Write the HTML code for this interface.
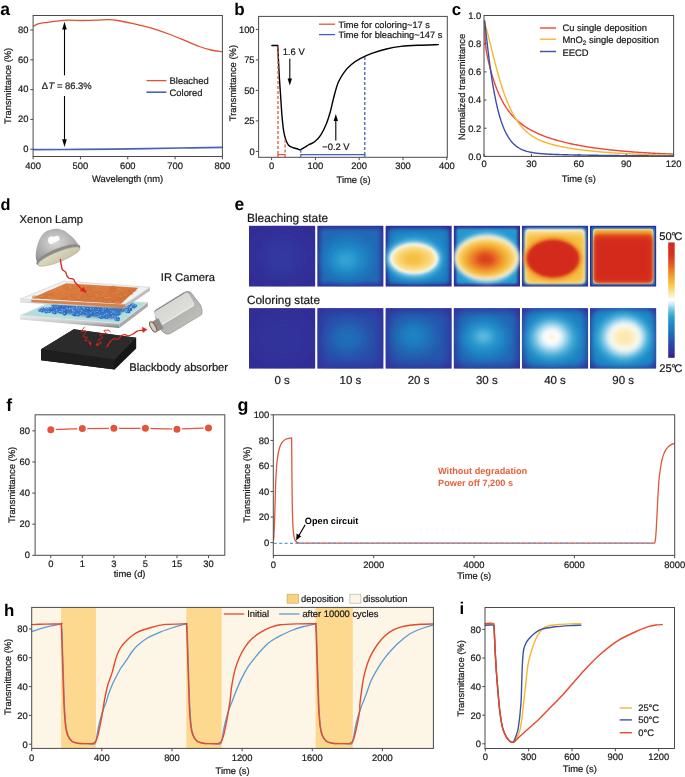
<!DOCTYPE html>
<html><head><meta charset="utf-8"><style>
html,body{margin:0;padding:0;background:#fff;}
body{width:685px;height:777px;overflow:hidden;}
svg{display:block;font-family:"Liberation Sans",sans-serif;will-change:transform;text-rendering:geometricPrecision;}
</style></head><body>
<svg width="685" height="777" viewBox="0 0 685 777">
<text x="0.2" y="14.9" font-size="17.5" text-anchor="start" font-weight="bold" fill="#000">a</text>
<path d="M33.5,26.1C34.38,25.7 36.47,24.33 38.8,23.7C41.13,23.07 44.1,22.78 47.5,22.3C50.9,21.82 55.78,21.15 59.2,20.8C62.62,20.45 64.1,20.25 68,20.2C71.9,20.15 77.73,20.5 82.6,20.5C87.47,20.5 92.83,20.35 97.2,20.2C101.57,20.05 105.4,19.55 108.8,19.6C112.2,19.65 113.7,19.87 117.6,20.5C121.5,21.13 127.33,22.33 132.2,23.4C137.07,24.47 142.92,25.92 146.8,26.9C150.68,27.88 151.62,28.03 155.5,29.3C159.38,30.57 165.23,32.65 170.1,34.5C174.97,36.35 179.83,38.4 184.7,40.4C189.57,42.4 194.92,44.9 199.3,46.5C203.68,48.1 207.25,49.15 211,50C214.75,50.85 220,51.33 221.8,51.6" fill="none" stroke="#E2512F" stroke-width="1.3" stroke-linejoin="round" stroke-linecap="round"/>
<path d="M33.5,149.6C41.25,149.57 63.92,149.53 80,149.4C96.08,149.27 113.33,149.03 130,148.8C146.67,148.57 164.67,148.23 180,148C195.33,147.77 215,147.5 222,147.4" fill="none" stroke="#4a62b4" stroke-width="1.7" stroke-linejoin="round" stroke-linecap="round"/>
<line x1="64.5" y1="27" x2="64.5" y2="75.3" stroke="#000" stroke-width="1.1"/>
<line x1="64.5" y1="96" x2="64.5" y2="141" stroke="#000" stroke-width="1.1"/>
<path d="M64.5,21.8 L62.2,29.5 L66.8,29.5 Z" fill="#000"/>
<path d="M64.5,147 L62.2,139.3 L66.8,139.3 Z" fill="#000"/>
<text x="41.7" y="88.5" font-size="9.4" text-anchor="start" font-weight="normal" fill="#1a1a1a" stroke="#1a1a1a" stroke-width="0.22">Δ<tspan font-style="italic" dx="0.6">T</tspan> = 86.3%</text>
<line x1="146.5" y1="80.6" x2="166.4" y2="80.6" stroke="#E2512F" stroke-width="1.3"/>
<text x="169.6" y="84.1" font-size="9.4" text-anchor="start" font-weight="normal" fill="#1a1a1a" stroke="#1a1a1a" stroke-width="0.22">Bleached</text>
<line x1="146.5" y1="92.2" x2="166.4" y2="92.2" stroke="#4a62b4" stroke-width="1.6"/>
<text x="169.6" y="95.7" font-size="9.4" text-anchor="start" font-weight="normal" fill="#1a1a1a" stroke="#1a1a1a" stroke-width="0.22">Colored</text>
<rect x="33.1" y="15.5" width="189.3" height="141" fill="none" stroke="#4a4a4a" stroke-width="1"/>
<line x1="30.3" y1="149.2" x2="33.1" y2="149.2" stroke="#4a4a4a" stroke-width="1"/>
<text x="28.5" y="151.9" font-size="9.4" text-anchor="end" font-weight="normal" fill="#1a1a1a" stroke="#1a1a1a" stroke-width="0.22">0</text>
<line x1="30.3" y1="119.4" x2="33.1" y2="119.4" stroke="#4a4a4a" stroke-width="1"/>
<text x="28.5" y="122.1" font-size="9.4" text-anchor="end" font-weight="normal" fill="#1a1a1a" stroke="#1a1a1a" stroke-width="0.22">20</text>
<line x1="30.3" y1="89.6" x2="33.1" y2="89.6" stroke="#4a4a4a" stroke-width="1"/>
<text x="28.5" y="92.3" font-size="9.4" text-anchor="end" font-weight="normal" fill="#1a1a1a" stroke="#1a1a1a" stroke-width="0.22">40</text>
<line x1="30.3" y1="59.8" x2="33.1" y2="59.8" stroke="#4a4a4a" stroke-width="1"/>
<text x="28.5" y="62.5" font-size="9.4" text-anchor="end" font-weight="normal" fill="#1a1a1a" stroke="#1a1a1a" stroke-width="0.22">60</text>
<line x1="30.3" y1="30" x2="33.1" y2="30" stroke="#4a4a4a" stroke-width="1"/>
<text x="28.5" y="32.7" font-size="9.4" text-anchor="end" font-weight="normal" fill="#1a1a1a" stroke="#1a1a1a" stroke-width="0.22">80</text>
<line x1="33.1" y1="156.5" x2="33.1" y2="159.3" stroke="#4a4a4a" stroke-width="1"/>
<text x="33.1" y="168.9" font-size="9.4" text-anchor="middle" font-weight="normal" fill="#1a1a1a" stroke="#1a1a1a" stroke-width="0.22">400</text>
<line x1="80.43" y1="156.5" x2="80.43" y2="159.3" stroke="#4a4a4a" stroke-width="1"/>
<text x="80.43" y="168.9" font-size="9.4" text-anchor="middle" font-weight="normal" fill="#1a1a1a" stroke="#1a1a1a" stroke-width="0.22">500</text>
<line x1="127.75" y1="156.5" x2="127.75" y2="159.3" stroke="#4a4a4a" stroke-width="1"/>
<text x="127.75" y="168.9" font-size="9.4" text-anchor="middle" font-weight="normal" fill="#1a1a1a" stroke="#1a1a1a" stroke-width="0.22">600</text>
<line x1="175.07" y1="156.5" x2="175.07" y2="159.3" stroke="#4a4a4a" stroke-width="1"/>
<text x="175.07" y="168.9" font-size="9.4" text-anchor="middle" font-weight="normal" fill="#1a1a1a" stroke="#1a1a1a" stroke-width="0.22">700</text>
<line x1="222.4" y1="156.5" x2="222.4" y2="159.3" stroke="#4a4a4a" stroke-width="1"/>
<text x="222.4" y="168.9" font-size="9.4" text-anchor="middle" font-weight="normal" fill="#1a1a1a" stroke="#1a1a1a" stroke-width="0.22">800</text>
<text x="127.6" y="182" font-size="9.4" text-anchor="middle" font-weight="normal" fill="#1a1a1a" stroke="#1a1a1a" stroke-width="0.22">Wavelength (nm)</text>
<text x="10.9" y="85.9" font-size="9.4" text-anchor="middle" font-weight="normal" fill="#1a1a1a" stroke="#1a1a1a" stroke-width="0.22" transform="rotate(-90 10.9 85.9)">Transmittance (%)</text>
<text x="234.2" y="14.5" font-size="17" text-anchor="start" font-weight="bold" fill="#000">b</text>
<path d="M271.9,45.5 L277.8,45.5C277.9,47.78 278.12,53.52 278.4,59.2C278.68,64.88 279.12,73.27 279.5,79.6C279.88,85.93 280.3,91.35 280.7,97.2C281.1,103.05 281.42,109.12 281.9,114.7C282.38,120.28 282.97,126.57 283.6,130.7C284.23,134.83 284.87,137.07 285.7,139.5C286.53,141.93 287.38,143.93 288.6,145.3C289.82,146.67 291.55,147.12 293,147.7C294.45,148.28 296.08,148.47 297.3,148.8C298.52,149.13 299.08,149.93 300.3,149.7C301.52,149.47 303.15,148.23 304.6,147.4C306.05,146.57 307.28,145.68 309,144.7C310.72,143.72 312.95,143.1 314.9,141.5C316.85,139.9 318.77,138.12 320.7,135.1C322.63,132.08 324.9,127.28 326.5,123.4C328.1,119.52 329.08,116.17 330.3,111.8C331.52,107.43 332.48,102.07 333.8,97.2C335.12,92.33 336.48,86.75 338.2,82.6C339.92,78.45 341.9,75.32 344.1,72.3C346.3,69.28 348.73,66.78 351.4,64.5C354.07,62.22 356.7,60.45 360.1,58.6C363.5,56.75 367.42,55 371.8,53.4C376.18,51.8 381.53,50.17 386.4,49C391.27,47.83 395.65,47.03 401,46.4C406.35,45.77 412.27,45.5 418.5,45.2C424.73,44.9 435.08,44.7 438.4,44.6" fill="none" stroke="#000" stroke-width="1.4" stroke-linejoin="round" stroke-linecap="round"/>
<line x1="278" y1="46" x2="278" y2="154.7" stroke="#E8553A" stroke-width="1.3" stroke-dasharray="3,2"/>
<line x1="285.1" y1="139.5" x2="285.1" y2="154.7" stroke="#E8553A" stroke-width="1.3" stroke-dasharray="3,2"/>
<path d="M278,157 V154.7 H285.1 V157" fill="none" stroke="#E8553A" stroke-width="1.2"/>
<line x1="364.8" y1="57" x2="364.8" y2="154.7" stroke="#4360B5" stroke-width="1.3" stroke-dasharray="3,2"/>
<line x1="300.8" y1="149.7" x2="300.8" y2="154.7" stroke="#4360B5" stroke-width="1.3" stroke-dasharray="3,2"/>
<path d="M300.8,157 V154.7 H364.8 V157" fill="none" stroke="#4360B5" stroke-width="1.2"/>
<line x1="289.8" y1="58.8" x2="289.8" y2="80" stroke="#000" stroke-width="1.1"/>
<path d="M289.8,85.5 L287.6,78.5 L292,78.5 Z" fill="#000"/>
<text x="282.8" y="54.7" font-size="9.4" text-anchor="start" font-weight="normal" fill="#1a1a1a" stroke="#1a1a1a" stroke-width="0.22">1.6 V</text>
<line x1="335.8" y1="120" x2="335.8" y2="140.4" stroke="#000" stroke-width="1.1"/>
<path d="M335.8,114 L333.6,121 L338,121 Z" fill="#000"/>
<text x="322.2" y="150.1" font-size="9.4" text-anchor="start" font-weight="normal" fill="#1a1a1a" stroke="#1a1a1a" stroke-width="0.22">−0.2 V</text>
<line x1="319" y1="24.2" x2="335.1" y2="24.2" stroke="#E8553A" stroke-width="1.3"/>
<text x="338.5" y="28" font-size="9.25" text-anchor="start" font-weight="normal" fill="#1a1a1a" stroke="#1a1a1a" stroke-width="0.22">Time for coloring~17 s</text>
<line x1="319" y1="34.6" x2="335.1" y2="34.6" stroke="#4360B5" stroke-width="1.3"/>
<text x="338.5" y="38.4" font-size="9.25" text-anchor="start" font-weight="normal" fill="#1a1a1a" stroke="#1a1a1a" stroke-width="0.22">Time for bleaching~147 s</text>
<rect x="258.6" y="16.4" width="188.7" height="140.9" fill="none" stroke="#4a4a4a" stroke-width="1"/>
<line x1="255.8" y1="151.4" x2="258.6" y2="151.4" stroke="#4a4a4a" stroke-width="1"/>
<text x="254.6" y="154.7" font-size="9.4" text-anchor="end" font-weight="normal" fill="#1a1a1a" stroke="#1a1a1a" stroke-width="0.22">0</text>
<line x1="255.8" y1="120.9" x2="258.6" y2="120.9" stroke="#4a4a4a" stroke-width="1"/>
<text x="254.6" y="124.2" font-size="9.4" text-anchor="end" font-weight="normal" fill="#1a1a1a" stroke="#1a1a1a" stroke-width="0.22">25</text>
<line x1="255.8" y1="90.4" x2="258.6" y2="90.4" stroke="#4a4a4a" stroke-width="1"/>
<text x="254.6" y="93.7" font-size="9.4" text-anchor="end" font-weight="normal" fill="#1a1a1a" stroke="#1a1a1a" stroke-width="0.22">50</text>
<line x1="255.8" y1="59.9" x2="258.6" y2="59.9" stroke="#4a4a4a" stroke-width="1"/>
<text x="254.6" y="63.2" font-size="9.4" text-anchor="end" font-weight="normal" fill="#1a1a1a" stroke="#1a1a1a" stroke-width="0.22">75</text>
<line x1="255.8" y1="29.4" x2="258.6" y2="29.4" stroke="#4a4a4a" stroke-width="1"/>
<text x="254.6" y="32.7" font-size="9.4" text-anchor="end" font-weight="normal" fill="#1a1a1a" stroke="#1a1a1a" stroke-width="0.22">100</text>
<line x1="271.6" y1="157.3" x2="271.6" y2="160.1" stroke="#4a4a4a" stroke-width="1"/>
<text x="271.6" y="168.9" font-size="9.4" text-anchor="middle" font-weight="normal" fill="#1a1a1a" stroke="#1a1a1a" stroke-width="0.22">0</text>
<line x1="315.4" y1="157.3" x2="315.4" y2="160.1" stroke="#4a4a4a" stroke-width="1"/>
<text x="315.4" y="168.9" font-size="9.4" text-anchor="middle" font-weight="normal" fill="#1a1a1a" stroke="#1a1a1a" stroke-width="0.22">100</text>
<line x1="359.2" y1="157.3" x2="359.2" y2="160.1" stroke="#4a4a4a" stroke-width="1"/>
<text x="359.2" y="168.9" font-size="9.4" text-anchor="middle" font-weight="normal" fill="#1a1a1a" stroke="#1a1a1a" stroke-width="0.22">200</text>
<line x1="403" y1="157.3" x2="403" y2="160.1" stroke="#4a4a4a" stroke-width="1"/>
<text x="403" y="168.9" font-size="9.4" text-anchor="middle" font-weight="normal" fill="#1a1a1a" stroke="#1a1a1a" stroke-width="0.22">300</text>
<line x1="446.8" y1="157.3" x2="446.8" y2="160.1" stroke="#4a4a4a" stroke-width="1"/>
<text x="446.8" y="168.9" font-size="9.4" text-anchor="middle" font-weight="normal" fill="#1a1a1a" stroke="#1a1a1a" stroke-width="0.22">400</text>
<text x="353.6" y="182.5" font-size="9.4" text-anchor="middle" font-weight="normal" fill="#1a1a1a" stroke="#1a1a1a" stroke-width="0.22">Time (s)</text>
<text x="235.8" y="83.1" font-size="9.4" text-anchor="middle" font-weight="normal" fill="#1a1a1a" stroke="#1a1a1a" stroke-width="0.22" transform="rotate(-90 235.8 83.1)">Transmittance (%)</text>
<text x="451.7" y="15" font-size="16.8" text-anchor="start" font-weight="bold" fill="#000">c</text>
<path d="M484.6,21.74 L484.85,31.15 L485.1,37.45 L485.35,41.83 L485.6,45.01 L485.85,47.45 L486.1,49.42 L486.35,51.09 L486.6,52.58 L486.85,53.94 L487.1,55.21 L487.35,56.42 L487.6,57.6 L487.85,58.74 L488.1,59.85 L488.35,60.94 L488.6,62 L488.85,63.05 L489.1,64.08 L489.35,65.1 L489.6,66.09 L489.85,67.07 L490.1,68.04 L490.35,68.99 L490.6,69.92 L490.85,70.84 L491.1,71.75 L491.35,72.64 L491.6,73.52 L491.85,74.39 L492.1,75.24 L492.35,76.08 L492.6,76.9 L492.85,77.71 L493.1,78.52 L493.35,79.3 L493.6,80.08 L493.85,80.84 L494.1,81.6 L494.35,82.34 L494.6,83.07 L494.85,83.79 L495.1,84.5 L495.35,85.2 L495.6,85.89 L495.85,86.56 L496.1,87.23 L496.35,87.89 L496.6,88.54 L496.85,89.18 L497.1,89.81 L497.35,90.43 L497.6,91.04 L497.85,91.64 L498.1,92.23 L498.35,92.82 L498.6,93.4 L498.85,93.96 L499.1,94.53 L499.35,95.08 L499.6,95.62 L499.85,96.16 L500,96.48 L501,98.53 L502,100.48 L503,102.32 L504,104.07 L505,105.72 L506,107.29 L507,108.78 L508,110.19 L509,111.54 L510,112.82 L511,114.04 L512,115.21 L513,116.32 L514,117.38 L515,118.4 L516,119.37 L517,120.3 L518,121.19 L519,122.05 L520,122.87 L521,123.66 L522,124.42 L523,125.15 L524,125.86 L525,126.53 L526,127.19 L527,127.82 L528,128.43 L529,129.02 L530,129.6 L531,130.15 L532,130.69 L533,131.21 L534,131.71 L535,132.2 L536,132.68 L537,133.14 L538,133.59 L539,134.03 L540,134.45 L541,134.87 L542,135.27 L543,135.67 L544,136.05 L545,136.43 L546,136.79 L547,137.15 L548,137.5 L549,137.84 L550,138.17 L551,138.5 L552,138.82 L553,139.13 L554,139.43 L555,139.73 L556,140.02 L557,140.31 L558,140.59 L559,140.86 L560,141.13 L561,141.4 L562,141.66 L563,141.91 L564,142.16 L565,142.4 L566,142.64 L567,142.88 L568,143.11 L569,143.33 L570,143.55 L571,143.77 L572,143.99 L573,144.2 L574,144.4 L575,144.6 L576,144.8 L577,145 L578,145.19 L579,145.38 L580,145.56 L581,145.74 L582,145.92 L583,146.1 L584,146.27 L585,146.44 L586,146.61 L587,146.77 L588,146.93 L589,147.09 L590,147.24 L591,147.4 L592,147.55 L593,147.69 L594,147.84 L595,147.98 L596,148.12 L597,148.26 L598,148.39 L599,148.53 L600,148.66 L601,148.79 L602,148.91 L603,149.04 L604,149.16 L605,149.28 L606,149.4 L607,149.51 L608,149.63 L609,149.74 L610,149.85 L611,149.96 L612,150.07 L613,150.17 L614,150.27 L615,150.37 L616,150.47 L617,150.57 L618,150.67 L619,150.76 L620,150.86 L621,150.95 L622,151.04 L623,151.13 L624,151.22 L625,151.3 L626,151.39 L627,151.47 L628,151.55 L629,151.63 L630,151.71 L631,151.79 L632,151.86 L633,151.94 L634,152.01 L635,152.08 L636,152.16 L637,152.23 L638,152.3 L639,152.36 L640,152.43 L641,152.5 L642,152.56 L643,152.62 L644,152.69 L645,152.75 L646,152.81 L647,152.87 L648,152.93 L649,152.98 L650,153.04 L651,153.1 L652,153.15 L653,153.2 L654,153.26 L655,153.31 L656,153.36 L657,153.41 L658,153.46 L659,153.51 L660,153.56 L661,153.6 L662,153.65 L663,153.69 L664,153.74 L665,153.78 L666,153.83 L667,153.87 L668,153.91 L669,153.95 L670,153.99 L671,154.03 L672,154.07 L673,154.11 L673.3,154.12" fill="none" stroke="#E8473A" stroke-width="1.4" stroke-linejoin="round" stroke-linecap="round"/>
<path d="M484.6,23.49 L484.85,24.09 L485.1,24.77 L485.35,25.49 L485.6,26.25 L485.85,27.05 L486.1,27.88 L486.35,28.73 L486.6,29.6 L486.85,30.49 L487.1,31.4 L487.35,32.33 L487.6,33.26 L487.85,34.21 L488.1,35.17 L488.35,36.14 L488.6,37.12 L488.85,38.11 L489.1,39.1 L489.35,40.09 L489.6,41.09 L489.85,42.1 L490.1,43.1 L490.35,44.11 L490.6,45.12 L490.85,46.14 L491.1,47.15 L491.35,48.16 L491.6,49.17 L491.85,50.18 L492.1,51.19 L492.35,52.2 L492.6,53.21 L492.85,54.21 L493.1,55.21 L493.35,56.21 L493.6,57.2 L493.85,58.19 L494.1,59.18 L494.35,60.16 L494.6,61.13 L494.85,62.11 L495.1,63.07 L495.35,64.03 L495.6,64.99 L495.85,65.94 L496.1,66.89 L496.35,67.82 L496.6,68.76 L496.85,69.68 L497.1,70.6 L497.35,71.52 L497.6,72.42 L497.85,73.32 L498.1,74.22 L498.35,75.1 L498.6,75.98 L498.85,76.85 L499.1,77.72 L499.35,78.57 L499.6,79.42 L499.85,80.27 L500,80.77 L501,84.04 L502,87.2 L503,90.23 L504,93.13 L505,95.92 L506,98.58 L507,101.12 L508,103.55 L509,105.86 L510,108.06 L511,110.15 L512,112.14 L513,114.03 L514,115.82 L515,117.52 L516,119.14 L517,120.66 L518,122.11 L519,123.48 L520,124.78 L521,126 L522,127.17 L523,128.27 L524,129.31 L525,130.29 L526,131.23 L527,132.11 L528,132.95 L529,133.74 L530,134.49 L531,135.21 L532,135.88 L533,136.53 L534,137.14 L535,137.72 L536,138.27 L537,138.8 L538,139.3 L539,139.78 L540,140.24 L541,140.67 L542,141.09 L543,141.49 L544,141.87 L545,142.24 L546,142.59 L547,142.93 L548,143.25 L549,143.57 L550,143.87 L551,144.16 L552,144.44 L553,144.71 L554,144.97 L555,145.22 L556,145.47 L557,145.7 L558,145.93 L559,146.15 L560,146.37 L561,146.58 L562,146.79 L563,146.98 L564,147.18 L565,147.37 L566,147.55 L567,147.73 L568,147.9 L569,148.07 L570,148.24 L571,148.4 L572,148.56 L573,148.71 L574,148.86 L575,149.01 L576,149.16 L577,149.3 L578,149.44 L579,149.57 L580,149.7 L581,149.83 L582,149.96 L583,150.08 L584,150.2 L585,150.32 L586,150.44 L587,150.55 L588,150.67 L589,150.78 L590,150.88 L591,150.99 L592,151.09 L593,151.19 L594,151.29 L595,151.39 L596,151.49 L597,151.58 L598,151.67 L599,151.76 L600,151.85 L601,151.94 L602,152.02 L603,152.1 L604,152.19 L605,152.27 L606,152.34 L607,152.42 L608,152.5 L609,152.57 L610,152.64 L611,152.72 L612,152.79 L613,152.85 L614,152.92 L615,152.99 L616,153.05 L617,153.12 L618,153.18 L619,153.24 L620,153.3 L621,153.36 L622,153.42 L623,153.47 L624,153.53 L625,153.58 L626,153.64 L627,153.69 L628,153.74 L629,153.79 L630,153.84 L631,153.89 L632,153.94 L633,153.98 L634,154.03 L635,154.07 L636,154.12 L637,154.16 L638,154.2 L639,154.24 L640,154.29 L641,154.33 L642,154.37 L643,154.4 L644,154.44 L645,154.48 L646,154.52 L647,154.55 L648,154.59 L649,154.62 L650,154.65 L651,154.69 L652,154.72 L653,154.75 L654,154.78 L655,154.81 L656,154.84 L657,154.87 L658,154.9 L659,154.93 L660,154.96 L661,154.99 L662,155.01 L663,155.04 L664,155.06 L665,155.09 L666,155.11 L667,155.14 L668,155.16 L669,155.19 L670,155.21 L671,155.23 L672,155.25 L673,155.28 L673.3,155.28" fill="none" stroke="#F6B62E" stroke-width="1.4" stroke-linejoin="round" stroke-linecap="round"/>
<path d="M484.6,20.62 L484.85,22.75 L485.1,24.94 L485.35,27.17 L485.6,29.41 L485.85,31.65 L486.1,33.89 L486.35,36.12 L486.6,38.33 L486.85,40.52 L487.1,42.69 L487.35,44.84 L487.6,46.97 L487.85,49.07 L488.1,51.14 L488.35,53.18 L488.6,55.2 L488.85,57.18 L489.1,59.14 L489.35,61.07 L489.6,62.96 L489.85,64.83 L490.1,66.66 L490.35,68.47 L490.6,70.24 L490.85,71.99 L491.1,73.7 L491.35,75.39 L491.6,77.04 L491.85,78.67 L492.1,80.26 L492.35,81.83 L492.6,83.37 L492.85,84.87 L493.1,86.36 L493.35,87.81 L493.6,89.23 L493.85,90.63 L494.1,92 L494.35,93.35 L494.6,94.67 L494.85,95.96 L495.1,97.23 L495.35,98.47 L495.6,99.69 L495.85,100.88 L496.1,102.05 L496.35,103.19 L496.6,104.32 L496.85,105.41 L497.1,106.49 L497.35,107.55 L497.6,108.58 L497.85,109.59 L498.1,110.58 L498.35,111.55 L498.6,112.5 L498.85,113.43 L499.1,114.34 L499.35,115.24 L499.6,116.11 L499.85,116.96 L500,117.47 L501,120.67 L502,123.6 L503,126.28 L504,128.74 L505,130.99 L506,133.05 L507,134.93 L508,136.65 L509,138.22 L510,139.65 L511,140.95 L512,142.15 L513,143.23 L514,144.22 L515,145.12 L516,145.95 L517,146.7 L518,147.38 L519,148 L520,148.57 L521,149.09 L522,149.56 L523,149.99 L524,150.38 L525,150.73 L526,151.06 L527,151.36 L528,151.63 L529,151.88 L530,152.1 L531,152.31 L532,152.5 L533,152.68 L534,152.84 L535,152.98 L536,153.12 L537,153.24 L538,153.36 L539,153.46 L540,153.56 L541,153.65 L542,153.73 L543,153.81 L544,153.88 L545,153.95 L546,154.01 L547,154.07 L548,154.13 L549,154.18 L550,154.23 L551,154.27 L552,154.32 L553,154.36 L554,154.4 L555,154.44 L556,154.47 L557,154.51 L558,154.54 L559,154.57 L560,154.6 L561,154.63 L562,154.66 L563,154.68 L564,154.71 L565,154.73 L566,154.76 L567,154.78 L568,154.8 L569,154.83 L570,154.85 L571,154.87 L572,154.89 L573,154.91 L574,154.93 L575,154.95 L576,154.97 L577,154.99 L578,155.01 L579,155.03 L580,155.04 L581,155.06 L582,155.08 L583,155.09 L584,155.11 L585,155.13 L586,155.14 L587,155.16 L588,155.17 L589,155.19 L590,155.21 L591,155.22 L592,155.24 L593,155.25 L594,155.26 L595,155.28 L596,155.29 L597,155.31 L598,155.32 L599,155.33 L600,155.35 L601,155.36 L602,155.37 L603,155.38 L604,155.4 L605,155.41 L606,155.42 L607,155.43 L608,155.45 L609,155.46 L610,155.47 L611,155.48 L612,155.49 L613,155.5 L614,155.51 L615,155.53 L616,155.54 L617,155.55 L618,155.56 L619,155.57 L620,155.58 L621,155.59 L622,155.6 L623,155.61 L624,155.62 L625,155.63 L626,155.64 L627,155.65 L628,155.66 L629,155.66 L630,155.67 L631,155.68 L632,155.69 L633,155.7 L634,155.71 L635,155.72 L636,155.73 L637,155.73 L638,155.74 L639,155.75 L640,155.76 L641,155.77 L642,155.77 L643,155.78 L644,155.79 L645,155.8 L646,155.8 L647,155.81 L648,155.82 L649,155.83 L650,155.83 L651,155.84 L652,155.85 L653,155.85 L654,155.86 L655,155.87 L656,155.87 L657,155.88 L658,155.89 L659,155.89 L660,155.9 L661,155.91 L662,155.91 L663,155.92 L664,155.92 L665,155.93 L666,155.93 L667,155.94 L668,155.95 L669,155.95 L670,155.96 L671,155.96 L672,155.97 L673,155.97 L673.3,155.98" fill="none" stroke="#3A50A8" stroke-width="1.4" stroke-linejoin="round" stroke-linecap="round"/>
<line x1="539.9" y1="28" x2="556" y2="28" stroke="#E8473A" stroke-width="1.4"/>
<text x="562.5" y="31.4" font-size="9.4" text-anchor="start" font-weight="normal" fill="#1a1a1a" stroke="#1a1a1a" stroke-width="0.22">Cu single deposition</text>
<line x1="539.9" y1="39.2" x2="556" y2="39.2" stroke="#F6B62E" stroke-width="1.4"/>
<text x="562.5" y="42.6" font-size="9.4" text-anchor="start" font-weight="normal" fill="#1a1a1a" stroke="#1a1a1a" stroke-width="0.22">MnO<tspan font-size="6.5" dy="2">2</tspan><tspan dy="-2"> single deposition</tspan></text>
<line x1="539.9" y1="51.5" x2="556" y2="51.5" stroke="#3A50A8" stroke-width="1.4"/>
<text x="562.5" y="55.5" font-size="9.4" text-anchor="start" font-weight="normal" fill="#1a1a1a" stroke="#1a1a1a" stroke-width="0.22">EECD</text>
<rect x="484" y="15.5" width="189.6" height="140.9" fill="none" stroke="#4a4a4a" stroke-width="1"/>
<line x1="484" y1="156.4" x2="486.5" y2="156.4" stroke="#4a4a4a" stroke-width="1"/>
<text x="481.2" y="159.7" font-size="9.4" text-anchor="end" font-weight="normal" fill="#1a1a1a" stroke="#1a1a1a" stroke-width="0.22">0.0</text>
<line x1="484" y1="128.22" x2="486.5" y2="128.22" stroke="#4a4a4a" stroke-width="1"/>
<text x="481.2" y="131.52" font-size="9.4" text-anchor="end" font-weight="normal" fill="#1a1a1a" stroke="#1a1a1a" stroke-width="0.22">0.2</text>
<line x1="484" y1="100.04" x2="486.5" y2="100.04" stroke="#4a4a4a" stroke-width="1"/>
<text x="481.2" y="103.34" font-size="9.4" text-anchor="end" font-weight="normal" fill="#1a1a1a" stroke="#1a1a1a" stroke-width="0.22">0.4</text>
<line x1="484" y1="71.86" x2="486.5" y2="71.86" stroke="#4a4a4a" stroke-width="1"/>
<text x="481.2" y="75.16" font-size="9.4" text-anchor="end" font-weight="normal" fill="#1a1a1a" stroke="#1a1a1a" stroke-width="0.22">0.6</text>
<line x1="484" y1="43.68" x2="486.5" y2="43.68" stroke="#4a4a4a" stroke-width="1"/>
<text x="481.2" y="46.98" font-size="9.4" text-anchor="end" font-weight="normal" fill="#1a1a1a" stroke="#1a1a1a" stroke-width="0.22">0.8</text>
<line x1="484" y1="15.5" x2="486.5" y2="15.5" stroke="#4a4a4a" stroke-width="1"/>
<text x="481.2" y="18.8" font-size="9.4" text-anchor="end" font-weight="normal" fill="#1a1a1a" stroke="#1a1a1a" stroke-width="0.22">1.0</text>
<line x1="484" y1="156.4" x2="484" y2="153.9" stroke="#4a4a4a" stroke-width="1"/>
<text x="484" y="166.8" font-size="9.4" text-anchor="middle" font-weight="normal" fill="#1a1a1a" stroke="#1a1a1a" stroke-width="0.22">0</text>
<line x1="531.4" y1="156.4" x2="531.4" y2="153.9" stroke="#4a4a4a" stroke-width="1"/>
<text x="531.4" y="166.8" font-size="9.4" text-anchor="middle" font-weight="normal" fill="#1a1a1a" stroke="#1a1a1a" stroke-width="0.22">30</text>
<line x1="578.8" y1="156.4" x2="578.8" y2="153.9" stroke="#4a4a4a" stroke-width="1"/>
<text x="578.8" y="166.8" font-size="9.4" text-anchor="middle" font-weight="normal" fill="#1a1a1a" stroke="#1a1a1a" stroke-width="0.22">60</text>
<line x1="626.2" y1="156.4" x2="626.2" y2="153.9" stroke="#4a4a4a" stroke-width="1"/>
<text x="626.2" y="166.8" font-size="9.4" text-anchor="middle" font-weight="normal" fill="#1a1a1a" stroke="#1a1a1a" stroke-width="0.22">90</text>
<line x1="673.6" y1="156.4" x2="673.6" y2="153.9" stroke="#4a4a4a" stroke-width="1"/>
<text x="673.6" y="166.8" font-size="9.4" text-anchor="middle" font-weight="normal" fill="#1a1a1a" stroke="#1a1a1a" stroke-width="0.22">120</text>
<text x="578.8" y="181.5" font-size="9.4" text-anchor="middle" font-weight="normal" fill="#1a1a1a" stroke="#1a1a1a" stroke-width="0.22">Time (s)</text>
<text x="465.2" y="86.9" font-size="9.4" text-anchor="middle" font-weight="normal" fill="#1a1a1a" stroke="#1a1a1a" stroke-width="0.22" transform="rotate(-90 465.2 86.9)">Normalized transmittance</text>
<defs>
<filter id="b0_6" x="-50%" y="-50%" width="200%" height="200%"><feGaussianBlur stdDeviation="0.6"/></filter>
<filter id="b0_8" x="-50%" y="-50%" width="200%" height="200%"><feGaussianBlur stdDeviation="0.8"/></filter>
<filter id="b1" x="-50%" y="-50%" width="200%" height="200%"><feGaussianBlur stdDeviation="1"/></filter>
<filter id="b1_2" x="-50%" y="-50%" width="200%" height="200%"><feGaussianBlur stdDeviation="1.2"/></filter>
<filter id="b1_5" x="-50%" y="-50%" width="200%" height="200%"><feGaussianBlur stdDeviation="1.5"/></filter>
<filter id="b2" x="-50%" y="-50%" width="200%" height="200%"><feGaussianBlur stdDeviation="2"/></filter>
<filter id="b2_5" x="-50%" y="-50%" width="200%" height="200%"><feGaussianBlur stdDeviation="2.5"/></filter>
<filter id="b3" x="-50%" y="-50%" width="200%" height="200%"><feGaussianBlur stdDeviation="3"/></filter>
<filter id="b3_5" x="-50%" y="-50%" width="200%" height="200%"><feGaussianBlur stdDeviation="3.5"/></filter>
<filter id="b4" x="-50%" y="-50%" width="200%" height="200%"><feGaussianBlur stdDeviation="4"/></filter>
<filter id="b5" x="-50%" y="-50%" width="200%" height="200%"><feGaussianBlur stdDeviation="5"/></filter>
<filter id="b6" x="-50%" y="-50%" width="200%" height="200%"><feGaussianBlur stdDeviation="6"/></filter>
<filter id="b8" x="-50%" y="-50%" width="200%" height="200%"><feGaussianBlur stdDeviation="8"/></filter>
<linearGradient id="cbar" x1="0" y1="0" x2="0" y2="1"><stop offset="0" stop-color="#d42a1e"/><stop offset="0.1" stop-color="#d63020"/><stop offset="0.18" stop-color="#e2541e"/><stop offset="0.28" stop-color="#f0962a"/><stop offset="0.36" stop-color="#f6c445"/><stop offset="0.44" stop-color="#fbe6a8"/><stop offset="0.5" stop-color="#ffffff"/><stop offset="0.54" stop-color="#c4e6f3"/><stop offset="0.58" stop-color="#7cc6e6"/><stop offset="0.64" stop-color="#2ea3d3"/><stop offset="0.7" stop-color="#1f8cc8"/><stop offset="0.78" stop-color="#1f70b8"/><stop offset="0.88" stop-color="#2a49a8"/><stop offset="0.96" stop-color="#32309a"/><stop offset="1" stop-color="#2e2078"/></linearGradient>
<radialGradient id="dome" cx="0.45" cy="0.4" r="0.7"><stop offset="0" stop-color="#d8d8d8"/><stop offset="0.5" stop-color="#b4b4b4"/><stop offset="0.85" stop-color="#9a9a9a"/><stop offset="1" stop-color="#7a7a7a"/></radialGradient>
<linearGradient id="cam" x1="0" y1="0" x2="1" y2="1"><stop offset="0" stop-color="#9c9c98"/><stop offset="0.55" stop-color="#b4b4b0"/><stop offset="1" stop-color="#c8c8c4"/></linearGradient>
<linearGradient id="orng" x1="0" y1="0" x2="1" y2="1"><stop offset="0" stop-color="#e48646"/><stop offset="1" stop-color="#d26e34"/></linearGradient>
<linearGradient id="pedge" x1="0" y1="0" x2="0" y2="1"><stop offset="0" stop-color="#f2f2f2"/><stop offset="0.6" stop-color="#c4c4c4"/><stop offset="1" stop-color="#7c7c7c"/></linearGradient>
<linearGradient id="cream" x1="0" y1="0" x2="1" y2="1"><stop offset="0" stop-color="#e2dec4"/><stop offset="1" stop-color="#c4c0a4"/></linearGradient>
<linearGradient id="camtop" x1="0" y1="0" x2="1" y2="1"><stop offset="0" stop-color="#cfcfcb"/><stop offset="0.5" stop-color="#dadad6"/><stop offset="1" stop-color="#e6e6e2"/></linearGradient>
</defs>
<text x="0.5" y="210.3" font-size="16.3" text-anchor="start" font-weight="bold" fill="#000">d</text>
<text x="19.6" y="223" font-size="11.2" text-anchor="start" font-weight="normal" fill="#1a1a1a" stroke="#1a1a1a" stroke-width="0.22">Xenon Lamp</text>
<text x="160.8" y="280.8" font-size="11.2" text-anchor="start" font-weight="normal" fill="#1a1a1a" stroke="#1a1a1a" stroke-width="0.22">IR Camera</text>
<text x="129.2" y="371.1" font-size="11.2" text-anchor="start" font-weight="normal" fill="#1a1a1a" stroke="#1a1a1a" stroke-width="0.22">Blackbody absorber</text>
<polygon points="41.1,349.2 73.8,329.3 136.2,337.8 136.2,348.5 114.7,369.6 41.1,360.3" fill="#161616"/>
<polygon points="41.1,349.4 114.7,359.6 114.7,369.6 41.1,360.3" fill="#1e1e1e"/>
<polygon points="41.1,349.2 73.8,329.3 136.2,337.8 114.7,359.4" fill="#2b2b2b"/>
<polygon points="20.1,315.4 119.5,323.4 119.5,327.9 20.1,319.6" fill="url(#pedge)"/>
<polygon points="119.5,323.4 147.8,302.2 147.8,306.6 119.5,327.9" fill="#a9a9a9"/>
<polygon points="20.1,315.4 56,299.5 147.8,302.2 119.5,323.4" fill="#b3dedd" stroke="#e4e4e4" stroke-width="0.7"/>
<polygon points="44.17,311.29 112.36,319 134.53,303.54 67.45,301.1" fill="#2b62b5" opacity="0.85" filter="url(#b0_8)"/>
<circle cx="86.76" cy="312.7" r="1.55" fill="#2a66bb"/>
<circle cx="86.26" cy="312.2" r="0.55" fill="#a9d0f5"/>
<circle cx="97.49" cy="303.09" r="1.55" fill="#2d6cc4"/>
<circle cx="96.99" cy="302.59" r="0.55" fill="#a9d0f5"/>
<circle cx="39.65" cy="310.33" r="1.55" fill="#3b7fd2"/>
<circle cx="39.15" cy="309.83" r="0.55" fill="#a9d0f5"/>
<circle cx="62.48" cy="310.03" r="1.55" fill="#3b7fd2"/>
<circle cx="61.98" cy="309.53" r="0.55" fill="#a9d0f5"/>
<circle cx="94.38" cy="308.53" r="1.55" fill="#3b7fd2"/>
<circle cx="93.88" cy="308.03" r="0.55" fill="#a9d0f5"/>
<circle cx="65.59" cy="305.15" r="1.55" fill="#3a80d4"/>
<circle cx="65.09" cy="304.65" r="0.55" fill="#a9d0f5"/>
<circle cx="100.11" cy="303.9" r="1.55" fill="#2f72c8"/>
<circle cx="99.61" cy="303.4" r="0.55" fill="#a9d0f5"/>
<circle cx="59.68" cy="304.37" r="1.55" fill="#2d6cc4"/>
<circle cx="59.18" cy="303.87" r="0.55" fill="#a9d0f5"/>
<circle cx="101.25" cy="317.54" r="1.55" fill="#2a66bb"/>
<circle cx="100.75" cy="317.04" r="0.55" fill="#a9d0f5"/>
<circle cx="106.11" cy="310.53" r="1.55" fill="#3b7fd2"/>
<circle cx="105.61" cy="310.03" r="0.55" fill="#a9d0f5"/>
<circle cx="127.32" cy="307.83" r="1.55" fill="#3b7fd2"/>
<circle cx="126.82" cy="307.33" r="0.55" fill="#a9d0f5"/>
<circle cx="100.94" cy="306.06" r="1.55" fill="#3a80d4"/>
<circle cx="100.44" cy="305.56" r="0.55" fill="#a9d0f5"/>
<circle cx="67.7" cy="302.28" r="1.55" fill="#3a80d4"/>
<circle cx="67.2" cy="301.78" r="0.55" fill="#a9d0f5"/>
<circle cx="70.32" cy="307.41" r="1.55" fill="#3b7fd2"/>
<circle cx="69.82" cy="306.91" r="0.55" fill="#a9d0f5"/>
<circle cx="123.64" cy="306.5" r="1.55" fill="#3b7fd2"/>
<circle cx="123.14" cy="306" r="0.55" fill="#a9d0f5"/>
<circle cx="80.69" cy="308.02" r="1.55" fill="#2a66bb"/>
<circle cx="80.19" cy="307.52" r="0.55" fill="#a9d0f5"/>
<circle cx="83.06" cy="307.81" r="1.55" fill="#3a80d4"/>
<circle cx="82.56" cy="307.31" r="0.55" fill="#a9d0f5"/>
<circle cx="113.14" cy="303.93" r="1.55" fill="#2f72c8"/>
<circle cx="112.64" cy="303.43" r="0.55" fill="#a9d0f5"/>
<circle cx="135.79" cy="305.75" r="1.55" fill="#3a80d4"/>
<circle cx="135.29" cy="305.25" r="0.55" fill="#a9d0f5"/>
<circle cx="80.78" cy="305.3" r="1.55" fill="#2d6cc4"/>
<circle cx="80.28" cy="304.8" r="0.55" fill="#a9d0f5"/>
<circle cx="104.5" cy="303.55" r="1.55" fill="#3a80d4"/>
<circle cx="104" cy="303.05" r="0.55" fill="#a9d0f5"/>
<circle cx="130.77" cy="309.5" r="1.55" fill="#2a66bb"/>
<circle cx="130.27" cy="309" r="0.55" fill="#a9d0f5"/>
<circle cx="49.49" cy="308.46" r="1.55" fill="#3b7fd2"/>
<circle cx="48.99" cy="307.96" r="0.55" fill="#a9d0f5"/>
<circle cx="103.94" cy="317.02" r="1.55" fill="#3b7fd2"/>
<circle cx="103.44" cy="316.52" r="0.55" fill="#a9d0f5"/>
<circle cx="62.25" cy="301.83" r="1.55" fill="#3b7fd2"/>
<circle cx="61.75" cy="301.33" r="0.55" fill="#a9d0f5"/>
<circle cx="124.77" cy="306.73" r="1.55" fill="#2f72c8"/>
<circle cx="124.27" cy="306.23" r="0.55" fill="#a9d0f5"/>
<circle cx="112.47" cy="308.77" r="1.55" fill="#3b7fd2"/>
<circle cx="111.97" cy="308.27" r="0.55" fill="#a9d0f5"/>
<circle cx="81.63" cy="305.08" r="1.55" fill="#2a66bb"/>
<circle cx="81.13" cy="304.58" r="0.55" fill="#a9d0f5"/>
<circle cx="128.86" cy="311.71" r="1.55" fill="#2a66bb"/>
<circle cx="128.36" cy="311.21" r="0.55" fill="#a9d0f5"/>
<circle cx="45.82" cy="311.82" r="1.55" fill="#2d6cc4"/>
<circle cx="45.32" cy="311.32" r="0.55" fill="#a9d0f5"/>
<circle cx="53.7" cy="312.37" r="1.55" fill="#3b7fd2"/>
<circle cx="53.2" cy="311.87" r="0.55" fill="#a9d0f5"/>
<circle cx="65.62" cy="309.87" r="1.55" fill="#2f72c8"/>
<circle cx="65.12" cy="309.37" r="0.55" fill="#a9d0f5"/>
<circle cx="88.8" cy="301.86" r="1.55" fill="#2a66bb"/>
<circle cx="88.3" cy="301.36" r="0.55" fill="#a9d0f5"/>
<circle cx="130.78" cy="303.75" r="1.55" fill="#3b7fd2"/>
<circle cx="130.28" cy="303.25" r="0.55" fill="#a9d0f5"/>
<circle cx="115.9" cy="313" r="1.55" fill="#3b7fd2"/>
<circle cx="115.4" cy="312.5" r="0.55" fill="#a9d0f5"/>
<circle cx="100.41" cy="307.34" r="1.55" fill="#2d6cc4"/>
<circle cx="99.91" cy="306.84" r="0.55" fill="#a9d0f5"/>
<circle cx="118.18" cy="318.3" r="1.55" fill="#2d6cc4"/>
<circle cx="117.68" cy="317.8" r="0.55" fill="#a9d0f5"/>
<circle cx="94.75" cy="312.91" r="1.55" fill="#3a80d4"/>
<circle cx="94.25" cy="312.41" r="0.55" fill="#a9d0f5"/>
<circle cx="95.19" cy="302.7" r="1.55" fill="#2a66bb"/>
<circle cx="94.69" cy="302.2" r="0.55" fill="#a9d0f5"/>
<circle cx="93.82" cy="308.8" r="1.55" fill="#2f72c8"/>
<circle cx="93.32" cy="308.3" r="0.55" fill="#a9d0f5"/>
<circle cx="134.06" cy="306.88" r="1.55" fill="#2a66bb"/>
<circle cx="133.56" cy="306.38" r="0.55" fill="#a9d0f5"/>
<circle cx="87.39" cy="316.37" r="1.55" fill="#3a80d4"/>
<circle cx="86.89" cy="315.87" r="0.55" fill="#a9d0f5"/>
<circle cx="89.27" cy="315.9" r="1.55" fill="#3b7fd2"/>
<circle cx="88.77" cy="315.4" r="0.55" fill="#a9d0f5"/>
<circle cx="119.15" cy="313.72" r="1.55" fill="#2d6cc4"/>
<circle cx="118.65" cy="313.22" r="0.55" fill="#a9d0f5"/>
<circle cx="112.95" cy="307.1" r="1.55" fill="#2f72c8"/>
<circle cx="112.45" cy="306.6" r="0.55" fill="#a9d0f5"/>
<circle cx="127.24" cy="310.06" r="1.55" fill="#2f72c8"/>
<circle cx="126.74" cy="309.56" r="0.55" fill="#a9d0f5"/>
<circle cx="81.62" cy="301.81" r="1.55" fill="#3b7fd2"/>
<circle cx="81.12" cy="301.31" r="0.55" fill="#a9d0f5"/>
<circle cx="92.76" cy="312.28" r="1.55" fill="#3a80d4"/>
<circle cx="92.26" cy="311.78" r="0.55" fill="#a9d0f5"/>
<circle cx="71.36" cy="309.35" r="1.55" fill="#2a66bb"/>
<circle cx="70.86" cy="308.85" r="0.55" fill="#a9d0f5"/>
<circle cx="79.61" cy="303.28" r="1.55" fill="#3b7fd2"/>
<circle cx="79.11" cy="302.78" r="0.55" fill="#a9d0f5"/>
<circle cx="105.31" cy="316.87" r="1.55" fill="#2d6cc4"/>
<circle cx="104.81" cy="316.37" r="0.55" fill="#a9d0f5"/>
<circle cx="65.25" cy="304.56" r="1.55" fill="#2d6cc4"/>
<circle cx="64.75" cy="304.06" r="0.55" fill="#a9d0f5"/>
<circle cx="107.2" cy="314.96" r="1.55" fill="#3a80d4"/>
<circle cx="106.7" cy="314.46" r="0.55" fill="#a9d0f5"/>
<circle cx="99.55" cy="312.41" r="1.55" fill="#2f72c8"/>
<circle cx="99.05" cy="311.91" r="0.55" fill="#a9d0f5"/>
<circle cx="65.56" cy="312.64" r="1.55" fill="#2a66bb"/>
<circle cx="65.06" cy="312.14" r="0.55" fill="#a9d0f5"/>
<circle cx="72.26" cy="305.1" r="1.55" fill="#3a80d4"/>
<circle cx="71.76" cy="304.6" r="0.55" fill="#a9d0f5"/>
<circle cx="99.01" cy="316.63" r="1.55" fill="#3a80d4"/>
<circle cx="98.51" cy="316.13" r="0.55" fill="#a9d0f5"/>
<circle cx="94.98" cy="303.43" r="1.55" fill="#3a80d4"/>
<circle cx="94.48" cy="302.93" r="0.55" fill="#a9d0f5"/>
<circle cx="60.39" cy="303.02" r="1.55" fill="#3a80d4"/>
<circle cx="59.89" cy="302.52" r="0.55" fill="#a9d0f5"/>
<circle cx="111.86" cy="313.75" r="1.55" fill="#2d6cc4"/>
<circle cx="111.36" cy="313.25" r="0.55" fill="#a9d0f5"/>
<circle cx="64.12" cy="311.28" r="1.55" fill="#2f72c8"/>
<circle cx="63.62" cy="310.78" r="0.55" fill="#a9d0f5"/>
<circle cx="84.92" cy="304.05" r="1.55" fill="#3a80d4"/>
<circle cx="84.42" cy="303.55" r="0.55" fill="#a9d0f5"/>
<circle cx="89.07" cy="309.99" r="1.55" fill="#2a66bb"/>
<circle cx="88.57" cy="309.49" r="0.55" fill="#a9d0f5"/>
<circle cx="99.24" cy="310.12" r="1.55" fill="#2a66bb"/>
<circle cx="98.74" cy="309.62" r="0.55" fill="#a9d0f5"/>
<circle cx="80.42" cy="309.3" r="1.55" fill="#3b7fd2"/>
<circle cx="79.92" cy="308.8" r="0.55" fill="#a9d0f5"/>
<circle cx="41.36" cy="309.33" r="1.55" fill="#2d6cc4"/>
<circle cx="40.86" cy="308.83" r="0.55" fill="#a9d0f5"/>
<circle cx="96.18" cy="302.03" r="1.55" fill="#3a80d4"/>
<circle cx="95.68" cy="301.53" r="0.55" fill="#a9d0f5"/>
<circle cx="74.77" cy="314.74" r="1.55" fill="#2d6cc4"/>
<circle cx="74.27" cy="314.24" r="0.55" fill="#a9d0f5"/>
<circle cx="103.96" cy="302.66" r="1.55" fill="#3a80d4"/>
<circle cx="103.46" cy="302.16" r="0.55" fill="#a9d0f5"/>
<circle cx="125.68" cy="305.19" r="1.55" fill="#2a66bb"/>
<circle cx="125.18" cy="304.69" r="0.55" fill="#a9d0f5"/>
<circle cx="59.77" cy="311.76" r="1.55" fill="#2f72c8"/>
<circle cx="59.27" cy="311.26" r="0.55" fill="#a9d0f5"/>
<circle cx="114.02" cy="303.98" r="1.55" fill="#3a80d4"/>
<circle cx="113.52" cy="303.48" r="0.55" fill="#a9d0f5"/>
<circle cx="129.65" cy="304.77" r="1.55" fill="#2d6cc4"/>
<circle cx="129.15" cy="304.27" r="0.55" fill="#a9d0f5"/>
<circle cx="77.15" cy="314.73" r="1.55" fill="#2f72c8"/>
<circle cx="76.65" cy="314.23" r="0.55" fill="#a9d0f5"/>
<circle cx="65.53" cy="311.6" r="1.55" fill="#2f72c8"/>
<circle cx="65.03" cy="311.1" r="0.55" fill="#a9d0f5"/>
<circle cx="83.32" cy="307.96" r="1.55" fill="#2d6cc4"/>
<circle cx="82.82" cy="307.46" r="0.55" fill="#a9d0f5"/>
<circle cx="49.99" cy="310.81" r="1.55" fill="#2d6cc4"/>
<circle cx="49.49" cy="310.31" r="0.55" fill="#a9d0f5"/>
<circle cx="111.21" cy="310.85" r="1.55" fill="#2a66bb"/>
<circle cx="110.71" cy="310.35" r="0.55" fill="#a9d0f5"/>
<circle cx="52.51" cy="309.6" r="1.55" fill="#2f72c8"/>
<circle cx="52.01" cy="309.1" r="0.55" fill="#a9d0f5"/>
<circle cx="105.08" cy="315.65" r="1.55" fill="#3a80d4"/>
<circle cx="104.58" cy="315.15" r="0.55" fill="#a9d0f5"/>
<circle cx="59.32" cy="302.54" r="1.55" fill="#2d6cc4"/>
<circle cx="58.82" cy="302.04" r="0.55" fill="#a9d0f5"/>
<circle cx="63.62" cy="302.29" r="1.55" fill="#2a66bb"/>
<circle cx="63.12" cy="301.79" r="0.55" fill="#a9d0f5"/>
<circle cx="92.91" cy="313.12" r="1.55" fill="#2d6cc4"/>
<circle cx="92.41" cy="312.62" r="0.55" fill="#a9d0f5"/>
<circle cx="85.51" cy="309.67" r="1.55" fill="#2f72c8"/>
<circle cx="85.01" cy="309.17" r="0.55" fill="#a9d0f5"/>
<circle cx="119.22" cy="304.96" r="1.55" fill="#2f72c8"/>
<circle cx="118.72" cy="304.46" r="0.55" fill="#a9d0f5"/>
<circle cx="45.68" cy="310.2" r="1.55" fill="#2f72c8"/>
<circle cx="45.18" cy="309.7" r="0.55" fill="#a9d0f5"/>
<circle cx="66.19" cy="302.51" r="1.55" fill="#2d6cc4"/>
<circle cx="65.69" cy="302.01" r="0.55" fill="#a9d0f5"/>
<circle cx="62.24" cy="306.85" r="1.55" fill="#2f72c8"/>
<circle cx="61.74" cy="306.35" r="0.55" fill="#a9d0f5"/>
<circle cx="97.61" cy="311.85" r="1.55" fill="#2d6cc4"/>
<circle cx="97.11" cy="311.35" r="0.55" fill="#a9d0f5"/>
<circle cx="66.06" cy="309.73" r="1.55" fill="#2a66bb"/>
<circle cx="65.56" cy="309.23" r="0.55" fill="#a9d0f5"/>
<circle cx="58.34" cy="307.35" r="1.55" fill="#2f72c8"/>
<circle cx="57.84" cy="306.85" r="0.55" fill="#a9d0f5"/>
<circle cx="85.39" cy="305.33" r="1.55" fill="#2f72c8"/>
<circle cx="84.89" cy="304.83" r="0.55" fill="#a9d0f5"/>
<circle cx="55.28" cy="305.36" r="1.55" fill="#3b7fd2"/>
<circle cx="54.78" cy="304.86" r="0.55" fill="#a9d0f5"/>
<circle cx="114.1" cy="308.89" r="1.55" fill="#3b7fd2"/>
<circle cx="113.6" cy="308.39" r="0.55" fill="#a9d0f5"/>
<circle cx="57.16" cy="304.63" r="1.55" fill="#3b7fd2"/>
<circle cx="56.66" cy="304.13" r="0.55" fill="#a9d0f5"/>
<circle cx="89.11" cy="316" r="1.55" fill="#2a66bb"/>
<circle cx="88.61" cy="315.5" r="0.55" fill="#a9d0f5"/>
<circle cx="102.96" cy="311.15" r="1.55" fill="#3b7fd2"/>
<circle cx="102.46" cy="310.65" r="0.55" fill="#a9d0f5"/>
<circle cx="55.08" cy="312.72" r="1.55" fill="#2a66bb"/>
<circle cx="54.58" cy="312.22" r="0.55" fill="#a9d0f5"/>
<circle cx="60.89" cy="304.15" r="1.55" fill="#3b7fd2"/>
<circle cx="60.39" cy="303.65" r="0.55" fill="#a9d0f5"/>
<circle cx="53.26" cy="309.62" r="1.55" fill="#2f72c8"/>
<circle cx="52.76" cy="309.12" r="0.55" fill="#a9d0f5"/>
<circle cx="90.36" cy="302.51" r="1.55" fill="#2d6cc4"/>
<circle cx="89.86" cy="302.01" r="0.55" fill="#a9d0f5"/>
<circle cx="78.12" cy="303.9" r="1.55" fill="#3b7fd2"/>
<circle cx="77.62" cy="303.4" r="0.55" fill="#a9d0f5"/>
<circle cx="128.2" cy="308.3" r="1.55" fill="#2d6cc4"/>
<circle cx="127.7" cy="307.8" r="0.55" fill="#a9d0f5"/>
<circle cx="109.45" cy="305.52" r="1.55" fill="#2a66bb"/>
<circle cx="108.95" cy="305.02" r="0.55" fill="#a9d0f5"/>
<circle cx="59.92" cy="305.72" r="1.55" fill="#2d6cc4"/>
<circle cx="59.42" cy="305.22" r="0.55" fill="#a9d0f5"/>
<circle cx="92.64" cy="305.75" r="1.55" fill="#3a80d4"/>
<circle cx="92.14" cy="305.25" r="0.55" fill="#a9d0f5"/>
<circle cx="60.86" cy="303.19" r="1.55" fill="#2f72c8"/>
<circle cx="60.36" cy="302.69" r="0.55" fill="#a9d0f5"/>
<circle cx="103.52" cy="308.82" r="1.55" fill="#3b7fd2"/>
<circle cx="103.02" cy="308.32" r="0.55" fill="#a9d0f5"/>
<circle cx="43.49" cy="309.25" r="1.55" fill="#2f72c8"/>
<circle cx="42.99" cy="308.75" r="0.55" fill="#a9d0f5"/>
<circle cx="46.86" cy="311.68" r="1.55" fill="#3b7fd2"/>
<circle cx="46.36" cy="311.18" r="0.55" fill="#a9d0f5"/>
<circle cx="132.39" cy="305.95" r="1.55" fill="#2d6cc4"/>
<circle cx="131.89" cy="305.45" r="0.55" fill="#a9d0f5"/>
<circle cx="51.89" cy="308.49" r="1.55" fill="#2d6cc4"/>
<circle cx="51.39" cy="307.99" r="0.55" fill="#a9d0f5"/>
<circle cx="106.7" cy="309.93" r="1.55" fill="#2f72c8"/>
<circle cx="106.2" cy="309.43" r="0.55" fill="#a9d0f5"/>
<circle cx="59.43" cy="305.81" r="1.55" fill="#2d6cc4"/>
<circle cx="58.93" cy="305.31" r="0.55" fill="#a9d0f5"/>
<circle cx="64.74" cy="313.17" r="1.55" fill="#2d6cc4"/>
<circle cx="64.24" cy="312.67" r="0.55" fill="#a9d0f5"/>
<circle cx="47.86" cy="309.68" r="1.55" fill="#3a80d4"/>
<circle cx="47.36" cy="309.18" r="0.55" fill="#a9d0f5"/>
<circle cx="89.43" cy="306.6" r="1.55" fill="#3b7fd2"/>
<circle cx="88.93" cy="306.1" r="0.55" fill="#a9d0f5"/>
<circle cx="91.53" cy="312.91" r="1.55" fill="#2a66bb"/>
<circle cx="91.03" cy="312.41" r="0.55" fill="#a9d0f5"/>
<circle cx="127.43" cy="310.66" r="1.55" fill="#3b7fd2"/>
<circle cx="126.93" cy="310.16" r="0.55" fill="#a9d0f5"/>
<circle cx="126.75" cy="311.64" r="1.55" fill="#3b7fd2"/>
<circle cx="126.25" cy="311.14" r="0.55" fill="#a9d0f5"/>
<circle cx="133.68" cy="305.88" r="1.55" fill="#3b7fd2"/>
<circle cx="133.18" cy="305.38" r="0.55" fill="#a9d0f5"/>
<circle cx="113.99" cy="307.43" r="1.55" fill="#2d6cc4"/>
<circle cx="113.49" cy="306.93" r="0.55" fill="#a9d0f5"/>
<circle cx="67.22" cy="304.65" r="1.55" fill="#3b7fd2"/>
<circle cx="66.72" cy="304.15" r="0.55" fill="#a9d0f5"/>
<circle cx="72.16" cy="302.25" r="1.55" fill="#2f72c8"/>
<circle cx="71.66" cy="301.75" r="0.55" fill="#a9d0f5"/>
<circle cx="88.15" cy="308.73" r="1.55" fill="#2d6cc4"/>
<circle cx="87.65" cy="308.23" r="0.55" fill="#a9d0f5"/>
<circle cx="106.92" cy="302.96" r="1.55" fill="#3a80d4"/>
<circle cx="106.42" cy="302.46" r="0.55" fill="#a9d0f5"/>
<circle cx="101.1" cy="315.86" r="1.55" fill="#3a80d4"/>
<circle cx="100.6" cy="315.36" r="0.55" fill="#a9d0f5"/>
<circle cx="77.06" cy="306.64" r="1.55" fill="#3a80d4"/>
<circle cx="76.56" cy="306.14" r="0.55" fill="#a9d0f5"/>
<circle cx="100.86" cy="304.18" r="1.55" fill="#2a66bb"/>
<circle cx="100.36" cy="303.68" r="0.55" fill="#a9d0f5"/>
<circle cx="121.26" cy="308.21" r="1.55" fill="#2d6cc4"/>
<circle cx="120.76" cy="307.71" r="0.55" fill="#a9d0f5"/>
<circle cx="104.49" cy="304.32" r="1.55" fill="#2a66bb"/>
<circle cx="103.99" cy="303.82" r="0.55" fill="#a9d0f5"/>
<circle cx="84.06" cy="302.88" r="1.55" fill="#2a66bb"/>
<circle cx="83.56" cy="302.38" r="0.55" fill="#a9d0f5"/>
<circle cx="79.77" cy="308.36" r="1.55" fill="#3a80d4"/>
<circle cx="79.27" cy="307.86" r="0.55" fill="#a9d0f5"/>
<circle cx="70.71" cy="306.41" r="1.55" fill="#3b7fd2"/>
<circle cx="70.21" cy="305.91" r="0.55" fill="#a9d0f5"/>
<circle cx="68.53" cy="303.61" r="1.55" fill="#3b7fd2"/>
<circle cx="68.03" cy="303.11" r="0.55" fill="#a9d0f5"/>
<circle cx="71.48" cy="304.71" r="1.55" fill="#2d6cc4"/>
<circle cx="70.98" cy="304.21" r="0.55" fill="#a9d0f5"/>
<circle cx="122.28" cy="305.48" r="1.55" fill="#2d6cc4"/>
<circle cx="121.78" cy="304.98" r="0.55" fill="#a9d0f5"/>
<circle cx="118.18" cy="319.73" r="1.55" fill="#2f72c8"/>
<circle cx="117.68" cy="319.23" r="0.55" fill="#a9d0f5"/>
<circle cx="90.39" cy="303.62" r="1.55" fill="#2f72c8"/>
<circle cx="89.89" cy="303.12" r="0.55" fill="#a9d0f5"/>
<circle cx="67.39" cy="307.56" r="1.55" fill="#3a80d4"/>
<circle cx="66.89" cy="307.06" r="0.55" fill="#a9d0f5"/>
<circle cx="114.67" cy="308.19" r="1.55" fill="#2f72c8"/>
<circle cx="114.17" cy="307.69" r="0.55" fill="#a9d0f5"/>
<circle cx="127.51" cy="303.63" r="1.55" fill="#3a80d4"/>
<circle cx="127.01" cy="303.13" r="0.55" fill="#a9d0f5"/>
<circle cx="120.01" cy="304.45" r="1.55" fill="#3a80d4"/>
<circle cx="119.51" cy="303.95" r="0.55" fill="#a9d0f5"/>
<circle cx="98.45" cy="314.7" r="1.55" fill="#2f72c8"/>
<circle cx="97.95" cy="314.2" r="0.55" fill="#a9d0f5"/>
<circle cx="80.32" cy="302.58" r="1.55" fill="#2f72c8"/>
<circle cx="79.82" cy="302.08" r="0.55" fill="#a9d0f5"/>
<circle cx="78.91" cy="310.77" r="1.55" fill="#2f72c8"/>
<circle cx="78.41" cy="310.27" r="0.55" fill="#a9d0f5"/>
<circle cx="61.3" cy="311.95" r="1.55" fill="#2a66bb"/>
<circle cx="60.8" cy="311.45" r="0.55" fill="#a9d0f5"/>
<circle cx="74.51" cy="314.65" r="1.55" fill="#2a66bb"/>
<circle cx="74.01" cy="314.15" r="0.55" fill="#a9d0f5"/>
<circle cx="64.24" cy="313.94" r="1.55" fill="#3b7fd2"/>
<circle cx="63.74" cy="313.44" r="0.55" fill="#a9d0f5"/>
<circle cx="53.13" cy="307.55" r="1.55" fill="#2d6cc4"/>
<circle cx="52.63" cy="307.05" r="0.55" fill="#a9d0f5"/>
<circle cx="94.54" cy="305.48" r="1.55" fill="#3a80d4"/>
<circle cx="94.04" cy="304.98" r="0.55" fill="#a9d0f5"/>
<circle cx="60.67" cy="306.03" r="1.55" fill="#2a66bb"/>
<circle cx="60.17" cy="305.53" r="0.55" fill="#a9d0f5"/>
<circle cx="73.88" cy="313.94" r="1.55" fill="#3b7fd2"/>
<circle cx="73.38" cy="313.44" r="0.55" fill="#a9d0f5"/>
<circle cx="130.14" cy="304.95" r="1.55" fill="#2f72c8"/>
<circle cx="129.64" cy="304.45" r="0.55" fill="#a9d0f5"/>
<circle cx="105.94" cy="309.6" r="1.55" fill="#2a66bb"/>
<circle cx="105.44" cy="309.1" r="0.55" fill="#a9d0f5"/>
<circle cx="79.85" cy="304.45" r="1.55" fill="#2a66bb"/>
<circle cx="79.35" cy="303.95" r="0.55" fill="#a9d0f5"/>
<circle cx="115.98" cy="317.97" r="1.55" fill="#2a66bb"/>
<circle cx="115.48" cy="317.47" r="0.55" fill="#a9d0f5"/>
<circle cx="96.46" cy="306.64" r="1.55" fill="#2f72c8"/>
<circle cx="95.96" cy="306.14" r="0.55" fill="#a9d0f5"/>
<circle cx="94.18" cy="306.59" r="1.55" fill="#2f72c8"/>
<circle cx="93.68" cy="306.09" r="0.55" fill="#a9d0f5"/>
<circle cx="108.58" cy="306.66" r="1.55" fill="#2d6cc4"/>
<circle cx="108.08" cy="306.16" r="0.55" fill="#a9d0f5"/>
<circle cx="106.61" cy="306.16" r="1.55" fill="#3a80d4"/>
<circle cx="106.11" cy="305.66" r="0.55" fill="#a9d0f5"/>
<circle cx="113.15" cy="316.34" r="1.55" fill="#3b7fd2"/>
<circle cx="112.65" cy="315.84" r="0.55" fill="#a9d0f5"/>
<circle cx="115.31" cy="317.6" r="1.55" fill="#3a80d4"/>
<circle cx="114.81" cy="317.1" r="0.55" fill="#a9d0f5"/>
<circle cx="110.69" cy="303.57" r="1.55" fill="#2d6cc4"/>
<circle cx="110.19" cy="303.07" r="0.55" fill="#a9d0f5"/>
<circle cx="71.8" cy="308.58" r="1.55" fill="#3a80d4"/>
<circle cx="71.3" cy="308.08" r="0.55" fill="#a9d0f5"/>
<circle cx="73.68" cy="308.19" r="1.55" fill="#3a80d4"/>
<circle cx="73.18" cy="307.69" r="0.55" fill="#a9d0f5"/>
<circle cx="63.95" cy="304.21" r="1.55" fill="#3a80d4"/>
<circle cx="63.45" cy="303.71" r="0.55" fill="#a9d0f5"/>
<circle cx="98.94" cy="305.54" r="1.55" fill="#3b7fd2"/>
<circle cx="98.44" cy="305.04" r="0.55" fill="#a9d0f5"/>
<circle cx="67.52" cy="309.08" r="1.55" fill="#3b7fd2"/>
<circle cx="67.02" cy="308.58" r="0.55" fill="#a9d0f5"/>
<circle cx="49.33" cy="311.57" r="1.55" fill="#3b7fd2"/>
<circle cx="48.83" cy="311.07" r="0.55" fill="#a9d0f5"/>
<circle cx="69.72" cy="307.23" r="1.55" fill="#2d6cc4"/>
<circle cx="69.22" cy="306.73" r="0.55" fill="#a9d0f5"/>
<circle cx="72.72" cy="309.61" r="1.55" fill="#3b7fd2"/>
<circle cx="72.22" cy="309.11" r="0.55" fill="#a9d0f5"/>
<circle cx="112.68" cy="311.47" r="1.55" fill="#2f72c8"/>
<circle cx="112.18" cy="310.97" r="0.55" fill="#a9d0f5"/>
<circle cx="113.55" cy="313.23" r="1.55" fill="#2f72c8"/>
<circle cx="113.05" cy="312.73" r="0.55" fill="#a9d0f5"/>
<circle cx="88.4" cy="314.27" r="1.55" fill="#2f72c8"/>
<circle cx="87.9" cy="313.77" r="0.55" fill="#a9d0f5"/>
<circle cx="123.18" cy="310.22" r="1.55" fill="#2f72c8"/>
<circle cx="122.68" cy="309.72" r="0.55" fill="#a9d0f5"/>
<circle cx="56.96" cy="310.54" r="1.55" fill="#3b7fd2"/>
<circle cx="56.46" cy="310.04" r="0.55" fill="#a9d0f5"/>
<circle cx="85.11" cy="305.97" r="1.55" fill="#3a80d4"/>
<circle cx="84.61" cy="305.47" r="0.55" fill="#a9d0f5"/>
<circle cx="64.05" cy="305.65" r="1.55" fill="#3b7fd2"/>
<circle cx="63.55" cy="305.15" r="0.55" fill="#a9d0f5"/>
<circle cx="100.11" cy="304.95" r="1.55" fill="#3a80d4"/>
<circle cx="99.61" cy="304.45" r="0.55" fill="#a9d0f5"/>
<circle cx="67.79" cy="306.22" r="1.55" fill="#2a66bb"/>
<circle cx="67.29" cy="305.72" r="0.55" fill="#a9d0f5"/>
<circle cx="69.94" cy="309.14" r="1.55" fill="#3b7fd2"/>
<circle cx="69.44" cy="308.64" r="0.55" fill="#a9d0f5"/>
<circle cx="133.34" cy="305.02" r="1.55" fill="#3b7fd2"/>
<circle cx="132.84" cy="304.52" r="0.55" fill="#a9d0f5"/>
<circle cx="117.45" cy="314.24" r="1.55" fill="#2a66bb"/>
<circle cx="116.95" cy="313.74" r="0.55" fill="#a9d0f5"/>
<circle cx="129.92" cy="309.43" r="1.55" fill="#2a66bb"/>
<circle cx="129.42" cy="308.93" r="0.55" fill="#a9d0f5"/>
<circle cx="111.84" cy="304.01" r="1.55" fill="#2f72c8"/>
<circle cx="111.34" cy="303.51" r="0.55" fill="#a9d0f5"/>
<circle cx="109.67" cy="308.64" r="1.55" fill="#2f72c8"/>
<circle cx="109.17" cy="308.14" r="0.55" fill="#a9d0f5"/>
<circle cx="100.76" cy="316.33" r="1.55" fill="#3a80d4"/>
<circle cx="100.26" cy="315.83" r="0.55" fill="#a9d0f5"/>
<circle cx="91.17" cy="309.06" r="1.55" fill="#3b7fd2"/>
<circle cx="90.67" cy="308.56" r="0.55" fill="#a9d0f5"/>
<circle cx="104.93" cy="315.15" r="1.55" fill="#3a80d4"/>
<circle cx="104.43" cy="314.65" r="0.55" fill="#a9d0f5"/>
<circle cx="78.43" cy="315.07" r="1.55" fill="#3b7fd2"/>
<circle cx="77.93" cy="314.57" r="0.55" fill="#a9d0f5"/>
<circle cx="62.68" cy="312.19" r="1.55" fill="#3a80d4"/>
<circle cx="62.18" cy="311.69" r="0.55" fill="#a9d0f5"/>
<circle cx="104.33" cy="316.21" r="1.55" fill="#2d6cc4"/>
<circle cx="103.83" cy="315.71" r="0.55" fill="#a9d0f5"/>
<circle cx="63.36" cy="301.57" r="1.55" fill="#2d6cc4"/>
<circle cx="62.86" cy="301.07" r="0.55" fill="#a9d0f5"/>
<circle cx="49.28" cy="309.11" r="1.55" fill="#2d6cc4"/>
<circle cx="48.78" cy="308.61" r="0.55" fill="#a9d0f5"/>
<circle cx="64.93" cy="313.83" r="1.55" fill="#2a66bb"/>
<circle cx="64.43" cy="313.33" r="0.55" fill="#a9d0f5"/>
<circle cx="113.34" cy="304.47" r="1.55" fill="#3a80d4"/>
<circle cx="112.84" cy="303.97" r="0.55" fill="#a9d0f5"/>
<circle cx="106.88" cy="317.48" r="1.55" fill="#2f72c8"/>
<circle cx="106.38" cy="316.98" r="0.55" fill="#a9d0f5"/>
<circle cx="113.28" cy="306.97" r="1.55" fill="#2a66bb"/>
<circle cx="112.78" cy="306.47" r="0.55" fill="#a9d0f5"/>
<circle cx="78.99" cy="301.28" r="1.55" fill="#2f72c8"/>
<circle cx="78.49" cy="300.78" r="0.55" fill="#a9d0f5"/>
<circle cx="93.33" cy="303.69" r="1.55" fill="#3a80d4"/>
<circle cx="92.83" cy="303.19" r="0.55" fill="#a9d0f5"/>
<circle cx="58.34" cy="306.62" r="1.55" fill="#2f72c8"/>
<circle cx="57.84" cy="306.12" r="0.55" fill="#a9d0f5"/>
<circle cx="114.65" cy="312.33" r="1.55" fill="#3a80d4"/>
<circle cx="114.15" cy="311.83" r="0.55" fill="#a9d0f5"/>
<circle cx="84.78" cy="310.09" r="1.55" fill="#2f72c8"/>
<circle cx="84.28" cy="309.59" r="0.55" fill="#a9d0f5"/>
<circle cx="84.28" cy="307.85" r="1.55" fill="#3b7fd2"/>
<circle cx="83.78" cy="307.35" r="0.55" fill="#a9d0f5"/>
<circle cx="81.98" cy="311.19" r="1.55" fill="#3b7fd2"/>
<circle cx="81.48" cy="310.69" r="0.55" fill="#a9d0f5"/>
<circle cx="84.5" cy="309.35" r="1.55" fill="#2f72c8"/>
<circle cx="84" cy="308.85" r="0.55" fill="#a9d0f5"/>
<circle cx="84.45" cy="305.23" r="1.55" fill="#2a66bb"/>
<circle cx="83.95" cy="304.73" r="0.55" fill="#a9d0f5"/>
<circle cx="77.31" cy="308.63" r="1.55" fill="#3b7fd2"/>
<circle cx="76.81" cy="308.13" r="0.55" fill="#a9d0f5"/>
<circle cx="43.01" cy="308.62" r="1.55" fill="#3a80d4"/>
<circle cx="42.51" cy="308.12" r="0.55" fill="#a9d0f5"/>
<circle cx="73.28" cy="311.07" r="1.55" fill="#3b7fd2"/>
<circle cx="72.78" cy="310.57" r="0.55" fill="#a9d0f5"/>
<circle cx="63.54" cy="306.37" r="1.55" fill="#2f72c8"/>
<circle cx="63.04" cy="305.87" r="0.55" fill="#a9d0f5"/>
<circle cx="73.86" cy="312.47" r="1.55" fill="#3a80d4"/>
<circle cx="73.36" cy="311.97" r="0.55" fill="#a9d0f5"/>
<circle cx="64.64" cy="305.12" r="1.55" fill="#2d6cc4"/>
<circle cx="64.14" cy="304.62" r="0.55" fill="#a9d0f5"/>
<circle cx="80.76" cy="313.21" r="1.55" fill="#2f72c8"/>
<circle cx="80.26" cy="312.71" r="0.55" fill="#a9d0f5"/>
<circle cx="90.24" cy="303.82" r="1.55" fill="#2a66bb"/>
<circle cx="89.74" cy="303.32" r="0.55" fill="#a9d0f5"/>
<circle cx="103.4" cy="311.4" r="1.55" fill="#2f72c8"/>
<circle cx="102.9" cy="310.9" r="0.55" fill="#a9d0f5"/>
<circle cx="46.34" cy="308.75" r="1.55" fill="#3b7fd2"/>
<circle cx="45.84" cy="308.25" r="0.55" fill="#a9d0f5"/>
<circle cx="115.95" cy="319.5" r="1.55" fill="#3a80d4"/>
<circle cx="115.45" cy="319" r="0.55" fill="#a9d0f5"/>
<circle cx="74.42" cy="311.44" r="1.55" fill="#3a80d4"/>
<circle cx="73.92" cy="310.94" r="0.55" fill="#a9d0f5"/>
<circle cx="91.31" cy="314.36" r="1.55" fill="#2a66bb"/>
<circle cx="90.81" cy="313.86" r="0.55" fill="#a9d0f5"/>
<circle cx="106.63" cy="303.52" r="1.55" fill="#2a66bb"/>
<circle cx="106.13" cy="303.02" r="0.55" fill="#a9d0f5"/>
<circle cx="107.1" cy="314.02" r="1.55" fill="#3b7fd2"/>
<circle cx="106.6" cy="313.52" r="0.55" fill="#a9d0f5"/>
<circle cx="132.09" cy="306.76" r="1.55" fill="#3b7fd2"/>
<circle cx="131.59" cy="306.26" r="0.55" fill="#a9d0f5"/>
<circle cx="64.76" cy="310.39" r="1.55" fill="#2a66bb"/>
<circle cx="64.26" cy="309.89" r="0.55" fill="#a9d0f5"/>
<circle cx="80.48" cy="306.26" r="1.55" fill="#2f72c8"/>
<circle cx="79.98" cy="305.76" r="0.55" fill="#a9d0f5"/>
<circle cx="73.63" cy="314.22" r="1.55" fill="#2f72c8"/>
<circle cx="73.13" cy="313.72" r="0.55" fill="#a9d0f5"/>
<circle cx="52.88" cy="304.88" r="1.55" fill="#2f72c8"/>
<circle cx="52.38" cy="304.38" r="0.55" fill="#a9d0f5"/>
<circle cx="56.43" cy="304.05" r="1.55" fill="#2d6cc4"/>
<circle cx="55.93" cy="303.55" r="0.55" fill="#a9d0f5"/>
<circle cx="42.19" cy="311" r="1.55" fill="#2d6cc4"/>
<circle cx="41.69" cy="310.5" r="0.55" fill="#a9d0f5"/>
<polygon points="20.1,299.1 123.3,305.4 123.3,309 20.1,302.6" fill="url(#pedge)"/>
<polygon points="123.3,305.4 149.9,287.3 149.9,290.7 123.3,309" fill="#bcbcbc"/>
<polygon points="20.1,299.1 64,281.1 149.9,287.3 123.3,305.4" fill="#eef2f2" stroke="#d0d0d0" stroke-width="0.7" fill-opacity="0.92"/>
<polygon points="31.3,302.2 125.4,307.2 125.4,304.6 31.3,299.8" fill="#d9783a" opacity="0.9"/>
<polygon points="31.3,298.2 66,283.3 138.5,287.8 121,303.8" fill="url(#orng)"/>
<ellipse cx="56.03" cy="294.02" rx="2.6" ry="1.3" fill="#e38c50" stroke="#b0602c" stroke-width="0.3" opacity="0.55"/>
<ellipse cx="105.41" cy="301.18" rx="2.6" ry="1.3" fill="#e08448" stroke="#b0602c" stroke-width="0.3" opacity="0.55"/>
<ellipse cx="49.77" cy="293.01" rx="2.6" ry="1.3" fill="#e38c50" stroke="#b0602c" stroke-width="0.3" opacity="0.55"/>
<ellipse cx="47.27" cy="295.17" rx="2.6" ry="1.3" fill="#d77a3e" stroke="#b0602c" stroke-width="0.3" opacity="0.55"/>
<ellipse cx="43.1" cy="297.14" rx="2.6" ry="1.3" fill="#d77a3e" stroke="#b0602c" stroke-width="0.3" opacity="0.55"/>
<ellipse cx="83.61" cy="299.71" rx="2.6" ry="1.3" fill="#e08448" stroke="#b0602c" stroke-width="0.3" opacity="0.55"/>
<ellipse cx="98.65" cy="291.8" rx="2.6" ry="1.3" fill="#e08448" stroke="#b0602c" stroke-width="0.3" opacity="0.55"/>
<ellipse cx="82.89" cy="291.71" rx="2.6" ry="1.3" fill="#e08448" stroke="#b0602c" stroke-width="0.3" opacity="0.55"/>
<ellipse cx="108.58" cy="301.4" rx="2.6" ry="1.3" fill="#d77a3e" stroke="#b0602c" stroke-width="0.3" opacity="0.55"/>
<ellipse cx="90.25" cy="294.57" rx="2.6" ry="1.3" fill="#e38c50" stroke="#b0602c" stroke-width="0.3" opacity="0.55"/>
<ellipse cx="110.15" cy="297.44" rx="2.6" ry="1.3" fill="#e08448" stroke="#b0602c" stroke-width="0.3" opacity="0.55"/>
<ellipse cx="85.15" cy="299.13" rx="2.6" ry="1.3" fill="#e08448" stroke="#b0602c" stroke-width="0.3" opacity="0.55"/>
<ellipse cx="89.68" cy="295.25" rx="2.6" ry="1.3" fill="#e08448" stroke="#b0602c" stroke-width="0.3" opacity="0.55"/>
<ellipse cx="99.89" cy="292.89" rx="2.6" ry="1.3" fill="#d77a3e" stroke="#b0602c" stroke-width="0.3" opacity="0.55"/>
<ellipse cx="88" cy="290.43" rx="2.6" ry="1.3" fill="#d77a3e" stroke="#b0602c" stroke-width="0.3" opacity="0.55"/>
<ellipse cx="121.82" cy="295.69" rx="2.6" ry="1.3" fill="#d77a3e" stroke="#b0602c" stroke-width="0.3" opacity="0.55"/>
<ellipse cx="108.19" cy="297.46" rx="2.6" ry="1.3" fill="#e38c50" stroke="#b0602c" stroke-width="0.3" opacity="0.55"/>
<ellipse cx="64.83" cy="287.58" rx="2.6" ry="1.3" fill="#d77a3e" stroke="#b0602c" stroke-width="0.3" opacity="0.55"/>
<ellipse cx="119.11" cy="294.61" rx="2.6" ry="1.3" fill="#e38c50" stroke="#b0602c" stroke-width="0.3" opacity="0.55"/>
<ellipse cx="96.42" cy="294.47" rx="2.6" ry="1.3" fill="#e08448" stroke="#b0602c" stroke-width="0.3" opacity="0.55"/>
<ellipse cx="72.48" cy="298.14" rx="2.6" ry="1.3" fill="#d77a3e" stroke="#b0602c" stroke-width="0.3" opacity="0.55"/>
<ellipse cx="79.37" cy="298.03" rx="2.6" ry="1.3" fill="#e08448" stroke="#b0602c" stroke-width="0.3" opacity="0.55"/>
<ellipse cx="70.3" cy="285.12" rx="2.6" ry="1.3" fill="#e38c50" stroke="#b0602c" stroke-width="0.3" opacity="0.55"/>
<ellipse cx="120.05" cy="293.93" rx="2.6" ry="1.3" fill="#d77a3e" stroke="#b0602c" stroke-width="0.3" opacity="0.55"/>
<ellipse cx="72.78" cy="294.75" rx="2.6" ry="1.3" fill="#d77a3e" stroke="#b0602c" stroke-width="0.3" opacity="0.55"/>
<ellipse cx="87.59" cy="291.94" rx="2.6" ry="1.3" fill="#e08448" stroke="#b0602c" stroke-width="0.3" opacity="0.55"/>
<ellipse cx="98.26" cy="286.96" rx="2.6" ry="1.3" fill="#e38c50" stroke="#b0602c" stroke-width="0.3" opacity="0.55"/>
<ellipse cx="98" cy="300.48" rx="2.6" ry="1.3" fill="#d77a3e" stroke="#b0602c" stroke-width="0.3" opacity="0.55"/>
<ellipse cx="130.47" cy="293.39" rx="2.6" ry="1.3" fill="#d77a3e" stroke="#b0602c" stroke-width="0.3" opacity="0.55"/>
<ellipse cx="74.2" cy="295.69" rx="2.6" ry="1.3" fill="#e38c50" stroke="#b0602c" stroke-width="0.3" opacity="0.55"/>
<ellipse cx="121.07" cy="297.48" rx="2.6" ry="1.3" fill="#d77a3e" stroke="#b0602c" stroke-width="0.3" opacity="0.55"/>
<ellipse cx="48.42" cy="295.95" rx="2.6" ry="1.3" fill="#e08448" stroke="#b0602c" stroke-width="0.3" opacity="0.55"/>
<ellipse cx="64.2" cy="296.12" rx="2.6" ry="1.3" fill="#e38c50" stroke="#b0602c" stroke-width="0.3" opacity="0.55"/>
<ellipse cx="73.64" cy="296.22" rx="2.6" ry="1.3" fill="#d77a3e" stroke="#b0602c" stroke-width="0.3" opacity="0.55"/>
<ellipse cx="74.16" cy="298.82" rx="2.6" ry="1.3" fill="#e38c50" stroke="#b0602c" stroke-width="0.3" opacity="0.55"/>
<ellipse cx="53.47" cy="294.57" rx="2.6" ry="1.3" fill="#d77a3e" stroke="#b0602c" stroke-width="0.3" opacity="0.55"/>
<ellipse cx="81.89" cy="287.27" rx="2.6" ry="1.3" fill="#d77a3e" stroke="#b0602c" stroke-width="0.3" opacity="0.55"/>
<ellipse cx="114.17" cy="287.22" rx="2.6" ry="1.3" fill="#d77a3e" stroke="#b0602c" stroke-width="0.3" opacity="0.55"/>
<ellipse cx="75.42" cy="285.47" rx="2.6" ry="1.3" fill="#e08448" stroke="#b0602c" stroke-width="0.3" opacity="0.55"/>
<ellipse cx="93.69" cy="298.89" rx="2.6" ry="1.3" fill="#e08448" stroke="#b0602c" stroke-width="0.3" opacity="0.55"/>
<ellipse cx="95.69" cy="293.87" rx="2.6" ry="1.3" fill="#d77a3e" stroke="#b0602c" stroke-width="0.3" opacity="0.55"/>
<ellipse cx="54.32" cy="294.56" rx="2.6" ry="1.3" fill="#e38c50" stroke="#b0602c" stroke-width="0.3" opacity="0.55"/>
<ellipse cx="91.11" cy="295.38" rx="2.6" ry="1.3" fill="#e08448" stroke="#b0602c" stroke-width="0.3" opacity="0.55"/>
<ellipse cx="94.94" cy="290.67" rx="2.6" ry="1.3" fill="#e38c50" stroke="#b0602c" stroke-width="0.3" opacity="0.55"/>
<ellipse cx="111.22" cy="292.15" rx="2.6" ry="1.3" fill="#d77a3e" stroke="#b0602c" stroke-width="0.3" opacity="0.55"/>
<ellipse cx="119.32" cy="288.85" rx="2.6" ry="1.3" fill="#e38c50" stroke="#b0602c" stroke-width="0.3" opacity="0.55"/>
<ellipse cx="88.46" cy="288.65" rx="2.6" ry="1.3" fill="#d77a3e" stroke="#b0602c" stroke-width="0.3" opacity="0.55"/>
<ellipse cx="84.86" cy="294.63" rx="2.6" ry="1.3" fill="#d77a3e" stroke="#b0602c" stroke-width="0.3" opacity="0.55"/>
<ellipse cx="40.85" cy="297.12" rx="2.6" ry="1.3" fill="#e08448" stroke="#b0602c" stroke-width="0.3" opacity="0.55"/>
<ellipse cx="56.33" cy="292.25" rx="2.6" ry="1.3" fill="#e38c50" stroke="#b0602c" stroke-width="0.3" opacity="0.55"/>
<ellipse cx="34.76" cy="296.9" rx="2.6" ry="1.3" fill="#e08448" stroke="#b0602c" stroke-width="0.3" opacity="0.55"/>
<ellipse cx="125.12" cy="294.79" rx="2.6" ry="1.3" fill="#e38c50" stroke="#b0602c" stroke-width="0.3" opacity="0.55"/>
<ellipse cx="109.55" cy="301.78" rx="2.6" ry="1.3" fill="#e38c50" stroke="#b0602c" stroke-width="0.3" opacity="0.55"/>
<ellipse cx="96.79" cy="295.61" rx="2.6" ry="1.3" fill="#d77a3e" stroke="#b0602c" stroke-width="0.3" opacity="0.55"/>
<ellipse cx="89.56" cy="291.71" rx="2.6" ry="1.3" fill="#e08448" stroke="#b0602c" stroke-width="0.3" opacity="0.55"/>
<ellipse cx="133.93" cy="290.46" rx="2.6" ry="1.3" fill="#d77a3e" stroke="#b0602c" stroke-width="0.3" opacity="0.55"/>
<ellipse cx="73.59" cy="292.65" rx="2.6" ry="1.3" fill="#e08448" stroke="#b0602c" stroke-width="0.3" opacity="0.55"/>
<ellipse cx="65.62" cy="297.98" rx="2.6" ry="1.3" fill="#d77a3e" stroke="#b0602c" stroke-width="0.3" opacity="0.55"/>
<ellipse cx="103.7" cy="294.44" rx="2.6" ry="1.3" fill="#e38c50" stroke="#b0602c" stroke-width="0.3" opacity="0.55"/>
<ellipse cx="116.15" cy="302.21" rx="2.6" ry="1.3" fill="#e38c50" stroke="#b0602c" stroke-width="0.3" opacity="0.55"/>
<ellipse cx="100.98" cy="296.08" rx="2.6" ry="1.3" fill="#e08448" stroke="#b0602c" stroke-width="0.3" opacity="0.55"/>
<ellipse cx="80.34" cy="288.8" rx="2.6" ry="1.3" fill="#e38c50" stroke="#b0602c" stroke-width="0.3" opacity="0.55"/>
<ellipse cx="112.44" cy="289.02" rx="2.6" ry="1.3" fill="#d77a3e" stroke="#b0602c" stroke-width="0.3" opacity="0.55"/>
<ellipse cx="121.59" cy="294.86" rx="2.6" ry="1.3" fill="#d77a3e" stroke="#b0602c" stroke-width="0.3" opacity="0.55"/>
<ellipse cx="98.23" cy="289.61" rx="2.6" ry="1.3" fill="#e38c50" stroke="#b0602c" stroke-width="0.3" opacity="0.55"/>
<ellipse cx="62.11" cy="294.29" rx="2.6" ry="1.3" fill="#e08448" stroke="#b0602c" stroke-width="0.3" opacity="0.55"/>
<ellipse cx="120.24" cy="290.34" rx="2.6" ry="1.3" fill="#e38c50" stroke="#b0602c" stroke-width="0.3" opacity="0.55"/>
<ellipse cx="74.33" cy="287.76" rx="2.6" ry="1.3" fill="#d77a3e" stroke="#b0602c" stroke-width="0.3" opacity="0.55"/>
<ellipse cx="47.09" cy="293.01" rx="2.6" ry="1.3" fill="#e08448" stroke="#b0602c" stroke-width="0.3" opacity="0.55"/>
<ellipse cx="94.19" cy="289.1" rx="2.6" ry="1.3" fill="#e08448" stroke="#b0602c" stroke-width="0.3" opacity="0.55"/>
<ellipse cx="128.47" cy="292.57" rx="2.6" ry="1.3" fill="#d77a3e" stroke="#b0602c" stroke-width="0.3" opacity="0.55"/>
<ellipse cx="113.24" cy="289.9" rx="2.6" ry="1.3" fill="#d77a3e" stroke="#b0602c" stroke-width="0.3" opacity="0.55"/>
<ellipse cx="90.67" cy="286.38" rx="2.6" ry="1.3" fill="#e08448" stroke="#b0602c" stroke-width="0.3" opacity="0.55"/>
<ellipse cx="76.5" cy="298.63" rx="2.6" ry="1.3" fill="#d77a3e" stroke="#b0602c" stroke-width="0.3" opacity="0.55"/>
<ellipse cx="92" cy="297.97" rx="2.6" ry="1.3" fill="#e38c50" stroke="#b0602c" stroke-width="0.3" opacity="0.55"/>
<ellipse cx="96" cy="288.43" rx="2.6" ry="1.3" fill="#e38c50" stroke="#b0602c" stroke-width="0.3" opacity="0.55"/>
<ellipse cx="96.76" cy="296.1" rx="2.6" ry="1.3" fill="#e38c50" stroke="#b0602c" stroke-width="0.3" opacity="0.55"/>
<ellipse cx="70.01" cy="297.97" rx="2.6" ry="1.3" fill="#e38c50" stroke="#b0602c" stroke-width="0.3" opacity="0.55"/>
<ellipse cx="93.61" cy="289.68" rx="2.6" ry="1.3" fill="#e08448" stroke="#b0602c" stroke-width="0.3" opacity="0.55"/>
<ellipse cx="98.22" cy="294.8" rx="2.6" ry="1.3" fill="#e08448" stroke="#b0602c" stroke-width="0.3" opacity="0.55"/>
<ellipse cx="131.51" cy="291.07" rx="2.6" ry="1.3" fill="#d77a3e" stroke="#b0602c" stroke-width="0.3" opacity="0.55"/>
<ellipse cx="107.45" cy="294.89" rx="2.6" ry="1.3" fill="#e08448" stroke="#b0602c" stroke-width="0.3" opacity="0.55"/>
<ellipse cx="69.74" cy="288.7" rx="2.6" ry="1.3" fill="#e08448" stroke="#b0602c" stroke-width="0.3" opacity="0.55"/>
<ellipse cx="85.05" cy="300.29" rx="2.6" ry="1.3" fill="#d77a3e" stroke="#b0602c" stroke-width="0.3" opacity="0.55"/>
<ellipse cx="70.45" cy="287.49" rx="2.6" ry="1.3" fill="#e38c50" stroke="#b0602c" stroke-width="0.3" opacity="0.55"/>
<ellipse cx="112.22" cy="287.21" rx="2.6" ry="1.3" fill="#d77a3e" stroke="#b0602c" stroke-width="0.3" opacity="0.55"/>
<ellipse cx="84.48" cy="298.27" rx="2.6" ry="1.3" fill="#e08448" stroke="#b0602c" stroke-width="0.3" opacity="0.55"/>
<ellipse cx="117.72" cy="302.44" rx="2.6" ry="1.3" fill="#e38c50" stroke="#b0602c" stroke-width="0.3" opacity="0.55"/>
<ellipse cx="100.37" cy="300.04" rx="2.6" ry="1.3" fill="#e08448" stroke="#b0602c" stroke-width="0.3" opacity="0.55"/>
<ellipse cx="117.11" cy="295.91" rx="2.6" ry="1.3" fill="#e08448" stroke="#b0602c" stroke-width="0.3" opacity="0.55"/>
<ellipse cx="52.34" cy="298.33" rx="2.6" ry="1.3" fill="#e38c50" stroke="#b0602c" stroke-width="0.3" opacity="0.55"/>
<ellipse cx="89.7" cy="297.28" rx="2.6" ry="1.3" fill="#d77a3e" stroke="#b0602c" stroke-width="0.3" opacity="0.55"/>
<ellipse cx="116.27" cy="294.15" rx="2.6" ry="1.3" fill="#e08448" stroke="#b0602c" stroke-width="0.3" opacity="0.55"/>
<ellipse cx="88.66" cy="286.95" rx="2.6" ry="1.3" fill="#d77a3e" stroke="#b0602c" stroke-width="0.3" opacity="0.55"/>
<ellipse cx="117.13" cy="292.38" rx="2.6" ry="1.3" fill="#e38c50" stroke="#b0602c" stroke-width="0.3" opacity="0.55"/>
<ellipse cx="120.55" cy="296.31" rx="2.6" ry="1.3" fill="#e38c50" stroke="#b0602c" stroke-width="0.3" opacity="0.55"/>
<ellipse cx="50.21" cy="296.63" rx="2.6" ry="1.3" fill="#e38c50" stroke="#b0602c" stroke-width="0.3" opacity="0.55"/>
<ellipse cx="71.78" cy="299.63" rx="2.6" ry="1.3" fill="#e08448" stroke="#b0602c" stroke-width="0.3" opacity="0.55"/>
<ellipse cx="113.04" cy="292.97" rx="2.6" ry="1.3" fill="#e08448" stroke="#b0602c" stroke-width="0.3" opacity="0.55"/>
<ellipse cx="78.58" cy="297.67" rx="2.6" ry="1.3" fill="#e38c50" stroke="#b0602c" stroke-width="0.3" opacity="0.55"/>
<ellipse cx="42.22" cy="296.31" rx="2.6" ry="1.3" fill="#e38c50" stroke="#b0602c" stroke-width="0.3" opacity="0.55"/>
<ellipse cx="93.82" cy="293.25" rx="2.6" ry="1.3" fill="#e08448" stroke="#b0602c" stroke-width="0.3" opacity="0.55"/>
<ellipse cx="66.29" cy="286.09" rx="2.6" ry="1.3" fill="#e08448" stroke="#b0602c" stroke-width="0.3" opacity="0.55"/>
<ellipse cx="105.9" cy="297.68" rx="2.6" ry="1.3" fill="#e38c50" stroke="#b0602c" stroke-width="0.3" opacity="0.55"/>
<ellipse cx="50.14" cy="291.72" rx="2.6" ry="1.3" fill="#e08448" stroke="#b0602c" stroke-width="0.3" opacity="0.55"/>
<ellipse cx="96.57" cy="294.56" rx="2.6" ry="1.3" fill="#e38c50" stroke="#b0602c" stroke-width="0.3" opacity="0.55"/>
<ellipse cx="68.42" cy="290.43" rx="2.6" ry="1.3" fill="#d77a3e" stroke="#b0602c" stroke-width="0.3" opacity="0.55"/>
<ellipse cx="90.46" cy="294.07" rx="2.6" ry="1.3" fill="#d77a3e" stroke="#b0602c" stroke-width="0.3" opacity="0.55"/>
<ellipse cx="69.29" cy="291.98" rx="2.6" ry="1.3" fill="#e38c50" stroke="#b0602c" stroke-width="0.3" opacity="0.55"/>
<ellipse cx="130.68" cy="289.85" rx="2.6" ry="1.3" fill="#d77a3e" stroke="#b0602c" stroke-width="0.3" opacity="0.55"/>
<path d="M37.6,263.2C37.3,262.17 35.97,259.53 35.8,257C35.63,254.47 35.87,251.17 36.6,248C37.33,244.83 38.63,240.75 40.2,238C41.77,235.25 43.47,233.05 46,231.5C48.53,229.95 52.52,228.9 55.4,228.7C58.28,228.5 60.82,229.2 63.3,230.3C65.78,231.4 68.27,233.58 70.3,235.3C72.33,237.02 73.92,238.57 75.5,240.6C77.08,242.63 79.08,246.35 79.8,247.5 Z" fill="url(#dome)"/>
<ellipse cx="58.3" cy="255" rx="23.6" ry="6.4" transform="rotate(-22 58.3 255)" fill="#8a8a8a"/>
<ellipse cx="59" cy="256.6" rx="22.6" ry="5" transform="rotate(-22 59 256.6)" fill="url(#cream)" stroke="#a8a48c" stroke-width="0.5"/>
<path d="M48,240 C48,236 52,235.5 54,237 C56,235 60,235.5 59.5,239 C59,242 55,241.5 53.5,243 C51.5,245.5 47.8,244 48,240 Z" fill="#ffffff" opacity="0.95"/>
<path d="M60.4,259.5C60.55,260.43 60.97,263.42 61.3,265.1C61.63,266.78 61.67,268.43 62.4,269.6C63.13,270.77 64.97,271.1 65.7,272.1C66.43,273.1 66.22,274.58 66.8,275.6C67.38,276.62 68.1,277.58 69.2,278.2C70.3,278.82 72.38,278.57 73.4,279.3C74.42,280.03 74.53,281.62 75.3,282.6C76.07,283.58 77.12,284.23 78,285.2C78.88,286.17 79.68,287.5 80.6,288.4C81.52,289.3 83.02,290.23 83.5,290.6" fill="none" stroke="#d9231c" stroke-width="1.3" stroke-linejoin="round" stroke-linecap="round"/>
<path d="M86.3,292.6 L80.2,290.6 L83.6,287.4 Z" fill="#d9231c" stroke="#d9231c" stroke-width="0.6" stroke-linejoin="round"/>
<path d="M84.6,327C84.31,327.39 80.95,331.36 81.1,331.7C81.25,332.04 86.26,330.71 86.4,331.1C86.54,331.49 82.71,335.87 82.8,336.4C82.89,336.93 87.35,337.17 87.5,337.5C87.65,337.83 84.45,340.11 84.6,340.4C84.75,340.69 88.83,340.76 89.3,341C89.77,341.24 90.12,343.11 90.2,343.3" fill="none" stroke="#d9231c" stroke-width="0.9" stroke-linejoin="round" stroke-linecap="round"/>
<path d="M90.6,346 L88.4,342.6 L91.6,342.2 Z" fill="#d9231c"/>
<path d="M97.6,344.2C97.92,344.08 101.47,343.12 101.5,342.8C101.53,342.48 97.9,340.84 98,340.4C98.1,339.96 102.55,337.98 102.7,337.5C102.85,337.02 99.51,334.94 99.8,334.6C100.09,334.26 105.86,333.74 106.2,333.4C106.54,333.06 103.67,330.77 103.9,330.5C104.13,330.23 108.47,330.07 109,330.2C109.53,330.32 110.19,331.85 110.3,332" fill="none" stroke="#d9231c" stroke-width="0.9" stroke-linejoin="round" stroke-linecap="round"/>
<path d="M95.8,346.2 L97,342.5 L99.4,345 Z" fill="#d9231c"/>
<path d="M106.8,346.9C107.38,346.02 109.13,342.97 110.3,341.6C111.47,340.23 112.53,339.08 113.8,338.7C115.07,338.32 116.63,339.78 117.9,339.3C119.17,338.82 120.23,336.58 121.4,335.8C122.57,335.02 123.73,334.6 124.9,334.6C126.07,334.6 127.03,335.9 128.4,335.8C129.77,335.7 131.63,334.78 133.1,334C134.57,333.22 135.85,331.7 137.2,331.1C138.55,330.5 140.15,330.57 141.2,330.4C142.25,330.23 143.12,330.15 143.5,330.1" fill="none" stroke="#d9231c" stroke-width="1.2" stroke-linejoin="round" stroke-linecap="round"/>
<path d="M147,329.6 L142.4,327.2 L142.9,332.6 Z" fill="#d9231c" stroke="#d9231c" stroke-width="0.5"/>
<path d="M154.5,311 Q156,309.5 158,308.5 L184,292.5 Q188,290.2 191,292.5 L200.5,305 Q203,309 201.8,314.5 L170.5,333.6 Q166.5,335.5 163,332.2 L157,324.8 Z" fill="url(#cam)" stroke="#8a8a86" stroke-width="0.6"/>
<path d="M155.2,311.3 L184.8,293.2 Q187.3,292 189,294 L194.2,302.8 Q195,305 193,306.2 L163.5,324.3 Q161.3,325.3 159.8,323.5 L155,315.5 Q154,312.6 155.2,311.3 Z" fill="url(#camtop)"/>
<path d="M161.5,324.8 L193.5,305.5" stroke="#f4f4f0" stroke-width="1" opacity="0.9"/>
<path d="M155,311 L184.5,292.8" stroke="#707070" stroke-width="0.8" opacity="0.7"/>
<polygon points="152.5,321.2 158.5,318.2 163.5,328.6 157.4,331.6" fill="#8d8d89"/>
<ellipse cx="153.1" cy="326.9" rx="2.4" ry="5.7" transform="rotate(-30 153.1 326.9)" fill="#cfcfca" stroke="#8a5436" stroke-width="1"/>
<text x="234.4" y="209.6" font-size="17.5" text-anchor="start" font-weight="bold" fill="#000">e</text>
<text x="247.1" y="222.2" font-size="11.85" text-anchor="start" font-weight="normal" fill="#1a1a1a" stroke="#1a1a1a" stroke-width="0.22">Bleaching state</text>
<text x="246.9" y="303.8" font-size="11.85" text-anchor="start" font-weight="normal" fill="#1a1a1a" stroke="#1a1a1a" stroke-width="0.22">Coloring state</text>
<clipPath id="cp1"><rect x="249" y="225.6" width="66.4" height="61.1"/></clipPath>
<g clip-path="url(#cp1)">
<rect x="249" y="225.6" width="66.4" height="61.1" fill="#322e96"/>
<ellipse cx="282.2" cy="256.15" rx="29.22" ry="25.66" fill="#31339c" filter="url(#b6)"/>
<ellipse cx="280.87" cy="257.37" rx="16.6" ry="15.28" fill="#30389e" filter="url(#b6)"/>
</g>
<clipPath id="cp2"><rect x="317.2" y="225.6" width="66.4" height="61.1"/></clipPath>
<g clip-path="url(#cp2)">
<rect x="317.2" y="225.6" width="66.4" height="61.1" fill="#312c92"/>
<rect x="319.86" y="228.35" width="61.09" height="55.6" rx="3" fill="#2168b5" filter="url(#b2)"/>
<ellipse cx="347.74" cy="258.59" rx="25.23" ry="22" fill="#1f7ec0" filter="url(#b5)"/>
<ellipse cx="346.42" cy="259.82" rx="15.94" ry="12.22" fill="#2494cc" filter="url(#b5)"/>
<ellipse cx="345.75" cy="259.82" rx="7.97" ry="6.11" fill="#3ba9d6" filter="url(#b4)"/>
</g>
<clipPath id="cp3"><rect x="385.4" y="225.6" width="66.4" height="61.1"/></clipPath>
<g clip-path="url(#cp3)">
<rect x="385.4" y="225.6" width="66.4" height="61.1" fill="#312c92"/>
<rect x="388.39" y="228.66" width="60.42" height="54.99" rx="3" fill="#1f70b8" filter="url(#b1_5)"/>
<rect x="390.71" y="231.1" width="55.78" height="50.1" rx="6" fill="#1f85c4" filter="url(#b3)"/>
<ellipse cx="414.62" cy="258.59" rx="29.22" ry="22" fill="#2ea3d3" filter="url(#b3_5)"/>
<ellipse cx="413.95" cy="258.59" rx="25.9" ry="17.11" fill="#b2def0" filter="url(#b2_5)"/>
<ellipse cx="413.95" cy="258.59" rx="23.9" ry="14.97" fill="#ffffff" filter="url(#b1_5)"/>
<ellipse cx="413.95" cy="258.59" rx="21.91" ry="13.14" fill="#fbe6a8" filter="url(#b1_5)"/>
<ellipse cx="413.95" cy="258.59" rx="17.93" ry="10.39" fill="#f8d16a" filter="url(#b2_5)"/>
<ellipse cx="413.29" cy="258.59" rx="9.96" ry="6.11" fill="#f5be42" filter="url(#b2_5)"/>
</g>
<clipPath id="cp4"><rect x="453.6" y="225.6" width="66.4" height="61.1"/></clipPath>
<g clip-path="url(#cp4)">
<rect x="453.6" y="225.6" width="66.4" height="61.1" fill="#312c92"/>
<rect x="456.26" y="228.35" width="61.09" height="55.6" rx="2" fill="#2798ce" filter="url(#b1)"/>
<ellipse cx="486.8" cy="257.98" rx="31.87" ry="24.44" fill="#b2def0" filter="url(#b2_5)"/>
<ellipse cx="486.8" cy="257.98" rx="31.21" ry="21.38" fill="#fef7e2" filter="url(#b2)"/>
<ellipse cx="486.8" cy="257.98" rx="29.88" ry="19.55" fill="#fade8f" filter="url(#b2)"/>
<ellipse cx="486.14" cy="258.59" rx="26.56" ry="17.11" fill="#f6c445" filter="url(#b2_5)"/>
<ellipse cx="485.47" cy="259.2" rx="20.58" ry="13.44" fill="#f19c2d" filter="url(#b3)"/>
<ellipse cx="485.47" cy="259.2" rx="14.61" ry="9.78" fill="#e86e23" filter="url(#b3)"/>
<ellipse cx="485.47" cy="259.2" rx="8.63" ry="6.11" fill="#dc421f" filter="url(#b2_5)"/>
</g>
<clipPath id="cp5"><rect x="521.8" y="225.6" width="66.4" height="61.1"/></clipPath>
<g clip-path="url(#cp5)">
<rect x="521.8" y="225.6" width="66.4" height="61.1" fill="#312c92"/>
<rect x="523.26" y="227.25" width="63.48" height="57.8" rx="2" fill="#1f77bc" filter="url(#b0_8)"/>
<rect x="525.25" y="229.08" width="59.49" height="54.13" rx="3" fill="#ffffff" filter="url(#b0_8)"/>
<rect x="525.78" y="230.49" width="58.43" height="52.55" rx="3" fill="#fade8f" filter="url(#b1_2)"/>
<rect x="526.45" y="234.15" width="57.1" height="48.27" rx="5" fill="#f6c143" filter="url(#b2)"/>
<ellipse cx="553.01" cy="258.59" rx="28.55" ry="21.38" fill="#f2a231" filter="url(#b2_5)"/>
<ellipse cx="553.01" cy="258.59" rx="27.22" ry="19.55" fill="#e97524" filter="url(#b2)"/>
<ellipse cx="553.01" cy="258.59" rx="25.9" ry="18.33" fill="#d93920" filter="url(#b1_5)"/>
<ellipse cx="553.01" cy="258.59" rx="24.9" ry="17.41" fill="#d42b1e" filter="url(#b1_2)"/>
</g>
<clipPath id="cp6"><rect x="590" y="225.6" width="66.4" height="61.1"/></clipPath>
<g clip-path="url(#cp6)">
<rect x="590" y="225.6" width="66.4" height="61.1" fill="#312c92"/>
<rect x="591.33" y="227.13" width="63.74" height="58.05" rx="2" fill="#1f7abe" filter="url(#b0_6)"/>
<rect x="592.99" y="228.66" width="60.42" height="54.99" rx="3" fill="#e1f2f9" filter="url(#b0_6)"/>
<rect x="593.65" y="229.27" width="59.1" height="53.77" rx="3" fill="#f8d577" filter="url(#b0_6)"/>
<rect x="593.98" y="230.18" width="58.43" height="52.55" rx="3" fill="#f2a231" filter="url(#b0_8)"/>
<rect x="594.32" y="234.15" width="57.77" height="48.27" rx="3" fill="#de461f" filter="url(#b1_5)"/>
<rect x="594.65" y="237.82" width="57.1" height="43.99" rx="3" fill="#d42b1e" filter="url(#b2)"/>
</g>
<clipPath id="cp7"><rect x="249" y="308.1" width="66.4" height="60.7"/></clipPath>
<g clip-path="url(#cp7)">
<rect x="249" y="308.1" width="66.4" height="60.7" fill="#322e96"/>
<ellipse cx="282.2" cy="338.45" rx="26.56" ry="24.28" fill="#32329b" filter="url(#b6)"/>
</g>
<clipPath id="cp8"><rect x="317.2" y="308.1" width="66.4" height="60.7"/></clipPath>
<g clip-path="url(#cp8)">
<rect x="317.2" y="308.1" width="66.4" height="60.7" fill="#32309a"/>
<rect x="319.86" y="310.53" width="61.09" height="55.84" rx="9.77" fill="#2a49a8" filter="url(#b5)"/>
<ellipse cx="347.74" cy="338.45" rx="21.25" ry="18.21" fill="#2264b3" filter="url(#b6)"/>
<ellipse cx="347.08" cy="338.45" rx="10.62" ry="9.11" fill="#1f70b8" filter="url(#b5)"/>
</g>
<clipPath id="cp9"><rect x="385.4" y="308.1" width="66.4" height="60.7"/></clipPath>
<g clip-path="url(#cp9)">
<rect x="385.4" y="308.1" width="66.4" height="60.7" fill="#32309a"/>
<rect x="388.06" y="310.53" width="61.09" height="55.84" rx="9.77" fill="#2755ad" filter="url(#b5)"/>
<ellipse cx="414.62" cy="336.63" rx="21.25" ry="18.21" fill="#1f74ba" filter="url(#b6)"/>
<ellipse cx="413.29" cy="335.42" rx="9.96" ry="8.5" fill="#1f85c4" filter="url(#b5)"/>
</g>
<clipPath id="cp10"><rect x="453.6" y="308.1" width="66.4" height="60.7"/></clipPath>
<g clip-path="url(#cp10)">
<rect x="453.6" y="308.1" width="66.4" height="60.7" fill="#32309a"/>
<rect x="455.92" y="310.22" width="61.75" height="56.45" rx="9.88" fill="#2168b5" filter="url(#b4)"/>
<ellipse cx="484.81" cy="338.45" rx="23.9" ry="20.64" fill="#1f85c4" filter="url(#b5)"/>
<ellipse cx="483.48" cy="337.24" rx="15.94" ry="12.75" fill="#299bcf" filter="url(#b4)"/>
<ellipse cx="483.48" cy="336.63" rx="7.97" ry="6.07" fill="#62bae0" filter="url(#b3)"/>
</g>
<clipPath id="cp11"><rect x="521.8" y="308.1" width="66.4" height="60.7"/></clipPath>
<g clip-path="url(#cp11)">
<rect x="521.8" y="308.1" width="66.4" height="60.7" fill="#30369e"/>
<rect x="523.79" y="309.92" width="62.42" height="57.06" rx="9.99" fill="#1f7ec0" filter="url(#b3)"/>
<ellipse cx="553.01" cy="338.45" rx="27.22" ry="23.67" fill="#299bcf" filter="url(#b4)"/>
<ellipse cx="551.68" cy="337.84" rx="20.58" ry="17.6" fill="#6fc0e3" filter="url(#b3_5)"/>
<ellipse cx="551.68" cy="337.24" rx="14.61" ry="12.75" fill="#d3ecf6" filter="url(#b3)"/>
<ellipse cx="551.68" cy="337.24" rx="9.3" ry="7.89" fill="#ffffff" filter="url(#b2_5)"/>
<ellipse cx="551.68" cy="337.24" rx="3.98" ry="3.04" fill="#fdf2d4" filter="url(#b2)"/>
</g>
<clipPath id="cp12"><rect x="590" y="308.1" width="66.4" height="60.7"/></clipPath>
<g clip-path="url(#cp12)">
<rect x="590" y="308.1" width="66.4" height="60.7" fill="#2e3ca1"/>
<rect x="591.66" y="309.62" width="63.08" height="57.66" rx="10.09" fill="#1f85c4" filter="url(#b2_5)"/>
<ellipse cx="623.2" cy="337.84" rx="28.55" ry="25.49" fill="#2ea3d3" filter="url(#b3_5)"/>
<ellipse cx="623.86" cy="337.24" rx="23.24" ry="20.64" fill="#8ecee9" filter="url(#b3)"/>
<ellipse cx="624.53" cy="337.24" rx="18.59" ry="16.39" fill="#e1f2f9" filter="url(#b2_5)"/>
<ellipse cx="624.53" cy="337.24" rx="14.61" ry="12.75" fill="#fef9e9" filter="url(#b2)"/>
<ellipse cx="624.53" cy="337.24" rx="11.29" ry="9.71" fill="#fceec5" filter="url(#b2)"/>
<ellipse cx="624.53" cy="337.24" rx="6.64" ry="5.46" fill="#fbe8af" filter="url(#b2)"/>
</g>
<text x="282.2" y="384" font-size="11.5" text-anchor="middle" font-weight="normal" fill="#1a1a1a" stroke="#1a1a1a" stroke-width="0.22">0 s</text>
<text x="350.4" y="384" font-size="11.5" text-anchor="middle" font-weight="normal" fill="#1a1a1a" stroke="#1a1a1a" stroke-width="0.22">10 s</text>
<text x="418.6" y="384" font-size="11.5" text-anchor="middle" font-weight="normal" fill="#1a1a1a" stroke="#1a1a1a" stroke-width="0.22">20 s</text>
<text x="486.8" y="384" font-size="11.5" text-anchor="middle" font-weight="normal" fill="#1a1a1a" stroke="#1a1a1a" stroke-width="0.22">30 s</text>
<text x="555" y="384" font-size="11.5" text-anchor="middle" font-weight="normal" fill="#1a1a1a" stroke="#1a1a1a" stroke-width="0.22">40 s</text>
<text x="623.2" y="384" font-size="11.5" text-anchor="middle" font-weight="normal" fill="#1a1a1a" stroke="#1a1a1a" stroke-width="0.22">90 s</text>
<rect x="668.2" y="242.4" width="6.5" height="115.4" fill="url(#cbar)"/>
<text x="659.2" y="239.5" font-size="11.2" text-anchor="start" font-weight="normal" fill="#1a1a1a" stroke="#1a1a1a" stroke-width="0.22">50<tspan dx="-0.3">°</tspan><tspan dx="-1.6">C</tspan></text>
<text x="659.2" y="371.7" font-size="11.2" text-anchor="start" font-weight="normal" fill="#1a1a1a" stroke="#1a1a1a" stroke-width="0.22">25<tspan dx="-0.3">°</tspan><tspan dx="-1.6">C</tspan></text>
<text x="6.3" y="410.9" font-size="17.6" text-anchor="start" font-weight="bold" fill="#000">f</text>
<path d="M50.8,429.7 L82.34,428.6 L113.88,428.3 L145.42,428.3 L176.96,429.2 L208.5,427.9" fill="none" stroke="#E2553A" stroke-width="1.2"/>
<circle cx="50.8" cy="429.7" r="4.3" fill="#E2553A" stroke="#fff" stroke-width="1.6"/>
<circle cx="82.34" cy="428.6" r="4.3" fill="#E2553A" stroke="#fff" stroke-width="1.6"/>
<circle cx="113.88" cy="428.3" r="4.3" fill="#E2553A" stroke="#fff" stroke-width="1.6"/>
<circle cx="145.42" cy="428.3" r="4.3" fill="#E2553A" stroke="#fff" stroke-width="1.6"/>
<circle cx="176.96" cy="429.2" r="4.3" fill="#E2553A" stroke="#fff" stroke-width="1.6"/>
<circle cx="208.5" cy="427.9" r="4.3" fill="#E2553A" stroke="#fff" stroke-width="1.6"/>
<rect x="35.1" y="414.8" width="189.7" height="140.5" fill="none" stroke="#4a4a4a" stroke-width="1"/>
<line x1="32.3" y1="555.3" x2="35.1" y2="555.3" stroke="#4a4a4a" stroke-width="1"/>
<text x="30" y="558" font-size="9.4" text-anchor="end" font-weight="normal" fill="#1a1a1a" stroke="#1a1a1a" stroke-width="0.22">0</text>
<line x1="32.3" y1="524.19" x2="35.1" y2="524.19" stroke="#4a4a4a" stroke-width="1"/>
<text x="30" y="526.89" font-size="9.4" text-anchor="end" font-weight="normal" fill="#1a1a1a" stroke="#1a1a1a" stroke-width="0.22">20</text>
<line x1="32.3" y1="493.08" x2="35.1" y2="493.08" stroke="#4a4a4a" stroke-width="1"/>
<text x="30" y="495.78" font-size="9.4" text-anchor="end" font-weight="normal" fill="#1a1a1a" stroke="#1a1a1a" stroke-width="0.22">40</text>
<line x1="32.3" y1="461.96" x2="35.1" y2="461.96" stroke="#4a4a4a" stroke-width="1"/>
<text x="30" y="464.66" font-size="9.4" text-anchor="end" font-weight="normal" fill="#1a1a1a" stroke="#1a1a1a" stroke-width="0.22">60</text>
<line x1="32.3" y1="430.85" x2="35.1" y2="430.85" stroke="#4a4a4a" stroke-width="1"/>
<text x="30" y="433.55" font-size="9.4" text-anchor="end" font-weight="normal" fill="#1a1a1a" stroke="#1a1a1a" stroke-width="0.22">80</text>
<line x1="50.8" y1="555.3" x2="50.8" y2="558.1" stroke="#4a4a4a" stroke-width="1"/>
<text x="50.8" y="567.2" font-size="9.4" text-anchor="middle" font-weight="normal" fill="#1a1a1a" stroke="#1a1a1a" stroke-width="0.22">0</text>
<line x1="82.34" y1="555.3" x2="82.34" y2="558.1" stroke="#4a4a4a" stroke-width="1"/>
<text x="82.34" y="567.2" font-size="9.4" text-anchor="middle" font-weight="normal" fill="#1a1a1a" stroke="#1a1a1a" stroke-width="0.22">1</text>
<line x1="113.88" y1="555.3" x2="113.88" y2="558.1" stroke="#4a4a4a" stroke-width="1"/>
<text x="113.88" y="567.2" font-size="9.4" text-anchor="middle" font-weight="normal" fill="#1a1a1a" stroke="#1a1a1a" stroke-width="0.22">3</text>
<line x1="145.42" y1="555.3" x2="145.42" y2="558.1" stroke="#4a4a4a" stroke-width="1"/>
<text x="145.42" y="567.2" font-size="9.4" text-anchor="middle" font-weight="normal" fill="#1a1a1a" stroke="#1a1a1a" stroke-width="0.22">5</text>
<line x1="176.96" y1="555.3" x2="176.96" y2="558.1" stroke="#4a4a4a" stroke-width="1"/>
<text x="176.96" y="567.2" font-size="9.4" text-anchor="middle" font-weight="normal" fill="#1a1a1a" stroke="#1a1a1a" stroke-width="0.22">15</text>
<line x1="208.5" y1="555.3" x2="208.5" y2="558.1" stroke="#4a4a4a" stroke-width="1"/>
<text x="208.5" y="567.2" font-size="9.4" text-anchor="middle" font-weight="normal" fill="#1a1a1a" stroke="#1a1a1a" stroke-width="0.22">30</text>
<text x="129.6" y="576.6" font-size="9.4" text-anchor="middle" font-weight="normal" fill="#1a1a1a" stroke="#1a1a1a" stroke-width="0.22">time (d)</text>
<text x="14.6" y="485" font-size="9.4" text-anchor="middle" font-weight="normal" fill="#1a1a1a" stroke="#1a1a1a" stroke-width="0.22" transform="rotate(-90 14.6 485)">Transmittance (%)</text>
<text x="237.5" y="411.3" font-size="17.9" text-anchor="start" font-weight="bold" fill="#000">g</text>
<path d="M273.6,540C273.68,538.67 273.93,535.33 274.1,532C274.27,528.67 274.45,524.33 274.6,520C274.75,515.67 274.87,510.67 275,506C275.13,501.33 275.25,496.67 275.4,492C275.55,487.33 275.63,483 275.9,478C276.17,473 276.53,466.5 277,462C277.47,457.5 278.1,453.83 278.7,451C279.3,448.17 279.93,446.57 280.6,445C281.27,443.43 281.83,442.55 282.7,441.6C283.57,440.65 284.87,439.82 285.8,439.3C286.73,438.78 287.4,438.72 288.3,438.5C289.2,438.28 290.72,438.08 291.2,438 L291.6,438C291.65,443.33 291.8,459.67 291.9,470C292,480.33 292.07,491.67 292.2,500C292.33,508.33 292.5,514.67 292.7,520C292.9,525.33 293.1,528.88 293.4,532C293.7,535.12 294.03,537.08 294.5,538.7C294.97,540.32 295.53,541.02 296.2,541.7C296.87,542.38 297.7,542.57 298.5,542.8C299.3,543.03 295.75,543.05 301,543.1C306.25,543.15 325.17,543.1 330,543.1 L653,543.1 M653,543.1C653.3,543.02 654.37,543.45 654.8,542.6C655.23,541.75 655.37,540.1 655.6,538C655.83,535.9 655.97,533.83 656.2,530C656.43,526.17 656.72,520.5 657,515C657.28,509.5 657.57,502.83 657.9,497C658.23,491.17 658.57,484.83 659,480C659.43,475.17 659.97,471.5 660.5,468C661.03,464.5 661.53,461.62 662.2,459C662.87,456.38 663.62,454.2 664.5,452.3C665.38,450.4 666.5,448.8 667.5,447.6C668.5,446.4 669.33,445.8 670.5,445.1C671.67,444.4 673.83,443.68 674.5,443.4" fill="none" stroke="#E2553A" stroke-width="1.3" stroke-linejoin="round" stroke-linecap="round"/>
<line x1="273.8" y1="543.3" x2="653" y2="543.3" stroke="#5a9ddc" stroke-width="1.3" stroke-dasharray="3,2.4"/>
<line x1="305.2" y1="524.8" x2="298.2" y2="536.8" stroke="#000" stroke-width="1.2"/>
<path d="M296.2,540.6 L296.6,533.4 L301.2,536.2 Z" fill="#000"/>
<text x="304.8" y="523.8" font-size="9.2" text-anchor="start" font-weight="bold" fill="#000">Open circuit</text>
<text x="438" y="474.1" font-size="9.2" text-anchor="start" font-weight="bold" fill="#E8603C">Without degradation</text>
<text x="438" y="485.5" font-size="9.2" text-anchor="start" font-weight="bold" fill="#E8603C">Power off 7,200 s</text>
<rect x="273.3" y="414.8" width="401.4" height="140.6" fill="none" stroke="#4a4a4a" stroke-width="1"/>
<line x1="270.5" y1="542.6" x2="273.3" y2="542.6" stroke="#4a4a4a" stroke-width="1"/>
<text x="269.3" y="545.9" font-size="9.4" text-anchor="end" font-weight="normal" fill="#1a1a1a" stroke="#1a1a1a" stroke-width="0.22">0</text>
<line x1="270.5" y1="517.05" x2="273.3" y2="517.05" stroke="#4a4a4a" stroke-width="1"/>
<text x="269.3" y="520.35" font-size="9.4" text-anchor="end" font-weight="normal" fill="#1a1a1a" stroke="#1a1a1a" stroke-width="0.22">20</text>
<line x1="270.5" y1="491.5" x2="273.3" y2="491.5" stroke="#4a4a4a" stroke-width="1"/>
<text x="269.3" y="494.8" font-size="9.4" text-anchor="end" font-weight="normal" fill="#1a1a1a" stroke="#1a1a1a" stroke-width="0.22">40</text>
<line x1="270.5" y1="465.95" x2="273.3" y2="465.95" stroke="#4a4a4a" stroke-width="1"/>
<text x="269.3" y="469.25" font-size="9.4" text-anchor="end" font-weight="normal" fill="#1a1a1a" stroke="#1a1a1a" stroke-width="0.22">60</text>
<line x1="270.5" y1="440.4" x2="273.3" y2="440.4" stroke="#4a4a4a" stroke-width="1"/>
<text x="269.3" y="443.7" font-size="9.4" text-anchor="end" font-weight="normal" fill="#1a1a1a" stroke="#1a1a1a" stroke-width="0.22">80</text>
<line x1="270.5" y1="414.85" x2="273.3" y2="414.85" stroke="#4a4a4a" stroke-width="1"/>
<text x="269.3" y="418.15" font-size="9.4" text-anchor="end" font-weight="normal" fill="#1a1a1a" stroke="#1a1a1a" stroke-width="0.22">100</text>
<line x1="273.4" y1="555.4" x2="273.4" y2="558.2" stroke="#4a4a4a" stroke-width="1"/>
<text x="273.4" y="568.2" font-size="9.4" text-anchor="middle" font-weight="normal" fill="#1a1a1a" stroke="#1a1a1a" stroke-width="0.22">0</text>
<line x1="373.72" y1="555.4" x2="373.72" y2="558.2" stroke="#4a4a4a" stroke-width="1"/>
<text x="373.72" y="568.2" font-size="9.4" text-anchor="middle" font-weight="normal" fill="#1a1a1a" stroke="#1a1a1a" stroke-width="0.22">2000</text>
<line x1="474.04" y1="555.4" x2="474.04" y2="558.2" stroke="#4a4a4a" stroke-width="1"/>
<text x="474.04" y="568.2" font-size="9.4" text-anchor="middle" font-weight="normal" fill="#1a1a1a" stroke="#1a1a1a" stroke-width="0.22">4000</text>
<line x1="574.36" y1="555.4" x2="574.36" y2="558.2" stroke="#4a4a4a" stroke-width="1"/>
<text x="574.36" y="568.2" font-size="9.4" text-anchor="middle" font-weight="normal" fill="#1a1a1a" stroke="#1a1a1a" stroke-width="0.22">6000</text>
<line x1="674.68" y1="555.4" x2="674.68" y2="558.2" stroke="#4a4a4a" stroke-width="1"/>
<text x="674.68" y="568.2" font-size="9.4" text-anchor="middle" font-weight="normal" fill="#1a1a1a" stroke="#1a1a1a" stroke-width="0.22">8000</text>
<text x="474.2" y="579.2" font-size="9.4" text-anchor="middle" font-weight="normal" fill="#1a1a1a" stroke="#1a1a1a" stroke-width="0.22">Time (s)</text>
<text x="250" y="484.7" font-size="9.4" text-anchor="middle" font-weight="normal" fill="#1a1a1a" stroke="#1a1a1a" stroke-width="0.22" transform="rotate(-90 250 484.7)">Transmittance (%)</text>
<text x="3.9" y="615.8" font-size="16.9" text-anchor="start" font-weight="bold" fill="#000">h</text>
<rect x="31.7" y="607.4" width="401.7" height="141" fill="#fdf5e6"/>
<rect x="61.1" y="607.4" width="34.8" height="141" fill="#fcd98f"/>
<rect x="186.4" y="607.4" width="35.2" height="141" fill="#fcd98f"/>
<rect x="315.6" y="607.4" width="37.2" height="141" fill="#fcd98f"/>
<path d="M31.9,631.5C32.71,631.23 38.19,629.33 40,628.8C41.81,628.27 47.86,626.7 50,626.2C52.14,625.7 60.25,624.04 61.4,623.8C62.55,623.56 61.44,622.98 61.5,623.8C61.56,624.62 61.85,627.98 62,632C62.15,636.02 62.76,656.7 63,664C63.24,671.3 64.1,698.75 64.4,705C64.7,711.25 65.63,723.45 66,726.5C66.37,729.55 67.49,734.03 68.1,735.5C68.71,736.97 71.08,740.42 72.1,741.2C73.12,741.98 76.96,743.06 78.3,743.3C79.64,743.54 84.14,743.53 85.5,743.6C86.86,743.67 90.96,743.99 91.9,744C92.84,744.01 94.46,744.15 94.9,743.7C95.34,743.25 95.95,741.12 96.3,739.5C96.65,737.88 97.98,729.59 98.4,727.5C98.82,725.41 100,720.43 100.5,718.6C101,716.77 102.83,710.85 103.4,709.2C103.97,707.55 105.73,703.47 106.2,702.1C106.67,700.73 107.53,697.16 108.1,695.5C108.67,693.84 111.08,687.4 111.9,685.5C112.72,683.6 115.4,678.25 116.3,676.5C117.2,674.75 119.88,669.63 120.9,668C121.92,666.37 125.45,661.75 126.5,660.2C127.55,658.65 130.38,653.9 131.4,652.5C132.42,651.1 135.14,647.63 136.7,646.2C138.26,644.77 144.54,639.66 147,638.2C149.46,636.74 158.65,632.67 161.3,631.6C163.95,630.53 171.01,628.28 173.5,627.5C175.99,626.72 184.91,624.17 186.2,623.8C187.49,623.43 186.33,623.8 186.39,623.8C186.45,623.8 186.71,622.98 186.8,623.8C186.89,624.62 187.15,627.98 187.3,632C187.45,636.02 188.06,656.7 188.3,664C188.54,671.3 189.4,698.75 189.7,705C190,711.25 190.93,723.45 191.3,726.5C191.67,729.55 192.79,734.03 193.4,735.5C194.01,736.97 196.38,740.42 197.4,741.2C198.42,741.98 202.26,743.06 203.6,743.3C204.94,743.54 209.4,743.53 210.8,743.6C212.2,743.67 216.62,743.99 217.6,744C218.58,744.01 220.16,744.15 220.6,743.7C221.04,743.25 221.65,741.12 222,739.5C222.35,737.88 223.68,729.59 224.1,727.5C224.52,725.41 225.7,720.43 226.2,718.6C226.7,716.77 228.53,710.85 229.1,709.2C229.67,707.55 231.3,703.67 231.9,702.1C232.5,700.53 234.2,695.72 235.1,693.5C236,691.28 239.63,682.54 240.9,679.9C242.17,677.26 246.41,669.3 247.8,667.1C249.19,664.9 253.41,659.63 254.8,657.9C256.19,656.17 260.31,651.31 261.7,649.8C263.09,648.29 267.31,643.96 268.7,642.8C270.09,641.64 274.47,638.9 275.6,638.2C276.73,637.5 278.4,636.57 280,635.8C281.6,635.03 289.24,631.43 291.6,630.5C293.96,629.57 301.16,627.17 303.6,626.5C306.04,625.83 314.8,624.07 316,623.8C317.2,623.53 315.59,623.8 315.59,623.8C315.59,623.8 315.91,622.98 316,623.8C316.09,624.62 316.35,627.98 316.5,632C316.65,636.02 317.26,656.7 317.5,664C317.74,671.3 318.6,698.75 318.9,705C319.2,711.25 320.13,723.45 320.5,726.5C320.87,729.55 321.99,734.03 322.6,735.5C323.21,736.97 325.58,740.42 326.6,741.2C327.62,741.98 331.46,743.06 332.8,743.3C334.14,743.54 338.4,743.53 340,743.6C341.6,743.67 347.62,743.99 348.8,744C349.98,744.01 351.36,744.15 351.8,743.7C352.24,743.25 352.85,741.12 353.2,739.5C353.55,737.88 354.88,729.59 355.3,727.5C355.72,725.41 356.9,720.43 357.4,718.6C357.9,716.77 359.73,710.85 360.3,709.2C360.87,707.55 362.5,703.62 363.1,702.1C363.7,700.58 365.52,696.11 366.3,694C367.08,691.89 369.75,683.57 370.9,681C372.05,678.43 376.41,670.61 377.8,668.3C379.19,665.99 383.41,659.75 384.8,657.9C386.19,656.05 390.32,651.31 391.7,649.8C393.08,648.29 397.21,644.08 398.6,642.8C399.99,641.52 404.46,637.9 405.6,637C406.74,636.1 408.78,634.5 410,633.8C411.22,633.1 416.32,630.63 417.8,630C419.28,629.37 423.26,628 424.8,627.5C426.34,627 432.36,625.25 433.2,625" fill="none" stroke="#5B9BD5" stroke-width="1.3" stroke-linejoin="round" stroke-linecap="round"/>
<path d="M31.9,624.6C33.21,624.55 42.08,624.18 45,624.1C47.92,624.02 59.49,623.83 61.1,623.8C62.71,623.77 61.05,622.98 61.1,623.8C61.15,624.62 61.45,627.98 61.6,632C61.75,636.02 62.36,656.7 62.6,664C62.84,671.3 63.7,698.75 64,705C64.3,711.25 65.23,723.45 65.6,726.5C65.97,729.55 67.09,734.03 67.7,735.5C68.31,736.97 70.68,740.42 71.7,741.2C72.72,741.98 76.56,743.06 77.9,743.3C79.24,743.54 83.7,743.57 85.1,743.6C86.5,743.63 91.13,743.61 91.9,743.6C92.67,743.59 92.43,743.69 92.8,743.5C93.17,743.31 95.11,742.44 95.6,741.7C96.09,740.96 97.28,737.58 97.7,736.1C98.12,734.62 99.41,728.74 99.8,726.9C100.19,725.06 101.28,719.47 101.6,717.7C101.92,715.93 102.72,710.9 103,709.2C103.28,707.5 104.09,702.42 104.4,700.7C104.71,698.98 105.7,693.77 106.1,692C106.5,690.23 107.79,684.96 108.4,683C109.01,681.04 111.55,674.5 112.2,672.4C112.85,670.3 114.39,663.79 114.9,662C115.41,660.21 116.75,655.9 117.3,654.5C117.85,653.1 119.68,649.17 120.4,648C121.12,646.83 123.55,643.85 124.5,642.8C125.45,641.75 128.68,638.52 129.9,637.5C131.12,636.48 134.58,633.6 136.7,632.6C138.82,631.6 148.23,628.32 151.1,627.5C153.97,626.68 161.93,624.77 165.4,624.4C168.87,624.03 183.7,623.86 185.8,623.8C187.9,623.74 186.33,623.8 186.39,623.8C186.45,623.8 186.35,622.98 186.4,623.8C186.45,624.62 186.75,627.98 186.9,632C187.05,636.02 187.66,656.7 187.9,664C188.14,671.3 189,698.75 189.3,705C189.6,711.25 190.53,723.45 190.9,726.5C191.27,729.55 192.39,734.03 193,735.5C193.61,736.97 195.98,740.42 197,741.2C198.02,741.98 201.86,743.06 203.2,743.3C204.54,743.54 208.96,743.57 210.4,743.6C211.84,743.63 216.79,743.61 217.6,743.6C218.41,743.59 218.13,743.69 218.5,743.5C218.87,743.31 220.81,742.44 221.3,741.7C221.79,740.96 222.98,737.58 223.4,736.1C223.82,734.62 225.11,728.74 225.5,726.9C225.89,725.06 226.98,719.47 227.3,717.7C227.62,715.93 228.42,710.9 228.7,709.2C228.98,707.5 229.81,702.94 230.1,700.7C230.39,698.46 231.1,689.93 231.6,686.8C232.1,683.67 234.29,672.41 235.1,669.4C235.91,666.39 238.66,659.01 239.7,656.7C240.74,654.39 244.23,648.15 245.5,646.3C246.77,644.45 250.9,639.59 252.4,638.2C253.9,636.81 258.76,633.45 260.5,632.4C262.24,631.35 267.85,628.46 269.8,627.7C271.75,626.94 277.32,625.18 280,624.8C282.68,624.42 293.09,624 296.6,623.9C300.11,623.8 313.2,623.81 315.1,623.8C317,623.79 315.54,623.8 315.59,623.8C315.64,623.8 315.55,622.98 315.6,623.8C315.65,624.62 315.95,627.98 316.1,632C316.25,636.02 316.86,656.7 317.1,664C317.34,671.3 318.2,698.75 318.5,705C318.8,711.25 319.73,723.45 320.1,726.5C320.47,729.55 321.59,734.03 322.2,735.5C322.81,736.97 325.18,740.42 326.2,741.2C327.22,741.98 331.06,743.06 332.4,743.3C333.74,743.54 337.96,743.57 339.6,743.6C341.24,743.63 347.79,743.61 348.8,743.6C349.81,743.59 349.33,743.69 349.7,743.5C350.07,743.31 352.01,742.44 352.5,741.7C352.99,740.96 354.18,737.58 354.6,736.1C355.02,734.62 356.31,728.74 356.7,726.9C357.09,725.06 358.18,719.47 358.5,717.7C358.82,715.93 359.77,710.47 359.9,709.2C360.03,707.93 359.63,706.89 359.8,705C359.97,703.11 361.19,693.16 361.6,690.3C362.01,687.44 363.32,679.06 363.9,676.4C364.48,673.74 366.59,666.02 367.4,663.7C368.21,661.38 370.96,655.17 372,653.2C373.04,651.23 376.52,645.73 377.8,644C379.08,642.27 383.29,637.29 384.8,635.9C386.31,634.51 391.17,631.03 392.9,630.1C394.63,629.17 400.39,627.09 402.1,626.6C403.81,626.11 408.13,625.43 410,625.2C411.87,624.97 418.48,624.43 420.8,624.3C423.12,624.17 431.96,623.94 433.2,623.9" fill="none" stroke="#E5492D" stroke-width="1.4" stroke-linejoin="round" stroke-linecap="round"/>
<rect x="31.7" y="607.4" width="401.7" height="141" fill="none" stroke="#4a4a4a" stroke-width="1"/>
<line x1="28.9" y1="744.2" x2="31.7" y2="744.2" stroke="#4a4a4a" stroke-width="1"/>
<text x="27.7" y="747.5" font-size="9.4" text-anchor="end" font-weight="normal" fill="#1a1a1a" stroke="#1a1a1a" stroke-width="0.22">0</text>
<line x1="28.9" y1="715.4" x2="31.7" y2="715.4" stroke="#4a4a4a" stroke-width="1"/>
<text x="27.7" y="718.7" font-size="9.4" text-anchor="end" font-weight="normal" fill="#1a1a1a" stroke="#1a1a1a" stroke-width="0.22">20</text>
<line x1="28.9" y1="686.6" x2="31.7" y2="686.6" stroke="#4a4a4a" stroke-width="1"/>
<text x="27.7" y="689.9" font-size="9.4" text-anchor="end" font-weight="normal" fill="#1a1a1a" stroke="#1a1a1a" stroke-width="0.22">40</text>
<line x1="28.9" y1="657.8" x2="31.7" y2="657.8" stroke="#4a4a4a" stroke-width="1"/>
<text x="27.7" y="661.1" font-size="9.4" text-anchor="end" font-weight="normal" fill="#1a1a1a" stroke="#1a1a1a" stroke-width="0.22">60</text>
<line x1="28.9" y1="629" x2="31.7" y2="629" stroke="#4a4a4a" stroke-width="1"/>
<text x="27.7" y="632.3" font-size="9.4" text-anchor="end" font-weight="normal" fill="#1a1a1a" stroke="#1a1a1a" stroke-width="0.22">80</text>
<line x1="31.7" y1="748.4" x2="31.7" y2="751.2" stroke="#4a4a4a" stroke-width="1"/>
<text x="31.7" y="760.7" font-size="9.4" text-anchor="middle" font-weight="normal" fill="#1a1a1a" stroke="#1a1a1a" stroke-width="0.22">0</text>
<line x1="101.84" y1="748.4" x2="101.84" y2="751.2" stroke="#4a4a4a" stroke-width="1"/>
<text x="101.84" y="760.7" font-size="9.4" text-anchor="middle" font-weight="normal" fill="#1a1a1a" stroke="#1a1a1a" stroke-width="0.22">400</text>
<line x1="171.98" y1="748.4" x2="171.98" y2="751.2" stroke="#4a4a4a" stroke-width="1"/>
<text x="171.98" y="760.7" font-size="9.4" text-anchor="middle" font-weight="normal" fill="#1a1a1a" stroke="#1a1a1a" stroke-width="0.22">800</text>
<line x1="242.12" y1="748.4" x2="242.12" y2="751.2" stroke="#4a4a4a" stroke-width="1"/>
<text x="242.12" y="760.7" font-size="9.4" text-anchor="middle" font-weight="normal" fill="#1a1a1a" stroke="#1a1a1a" stroke-width="0.22">1200</text>
<line x1="312.26" y1="748.4" x2="312.26" y2="751.2" stroke="#4a4a4a" stroke-width="1"/>
<text x="312.26" y="760.7" font-size="9.4" text-anchor="middle" font-weight="normal" fill="#1a1a1a" stroke="#1a1a1a" stroke-width="0.22">1600</text>
<line x1="382.4" y1="748.4" x2="382.4" y2="751.2" stroke="#4a4a4a" stroke-width="1"/>
<text x="382.4" y="760.7" font-size="9.4" text-anchor="middle" font-weight="normal" fill="#1a1a1a" stroke="#1a1a1a" stroke-width="0.22">2000</text>
<text x="232.6" y="774" font-size="9.4" text-anchor="middle" font-weight="normal" fill="#1a1a1a" stroke="#1a1a1a" stroke-width="0.22">Time (s)</text>
<text x="11.4" y="676.9" font-size="9.4" text-anchor="middle" font-weight="normal" fill="#1a1a1a" stroke="#1a1a1a" stroke-width="0.22" transform="rotate(-90 11.4 676.9)">Transmittance (%)</text>
<rect x="287.1" y="594.2" width="11.4" height="9" fill="#f8d283" stroke="#c9a04f" stroke-width="0.6"/>
<text x="301.1" y="602" font-size="9.4" text-anchor="start" font-weight="normal" fill="#1a1a1a" stroke="#1a1a1a" stroke-width="0.22">deposition</text>
<rect x="349.9" y="594.2" width="11" height="9" fill="#fdf5e6" stroke="#b0a890" stroke-width="0.6"/>
<text x="363.1" y="602" font-size="9.4" text-anchor="start" font-weight="normal" fill="#1a1a1a" stroke="#1a1a1a" stroke-width="0.22">dissolution</text>
<line x1="223.8" y1="614" x2="244.2" y2="614" stroke="#E5492D" stroke-width="1.3"/>
<text x="247.2" y="617" font-size="9.4" text-anchor="start" font-weight="normal" fill="#1a1a1a" stroke="#1a1a1a" stroke-width="0.22">Initial</text>
<line x1="279.2" y1="614" x2="299.4" y2="614" stroke="#5B9BD5" stroke-width="1.3"/>
<text x="302.4" y="617" font-size="9.4" text-anchor="start" font-weight="normal" fill="#1a1a1a" stroke="#1a1a1a" stroke-width="0.22">after 10000 cycles</text>
<text x="459.6" y="613.7" font-size="16.8" text-anchor="start" font-weight="bold" fill="#000">i</text>
<path d="M485.3,625C486.1,624.98 492.4,624.1 493.3,624.8C494.2,625.5 494.11,629.28 494.3,632C494.49,634.72 494.99,648 495.2,652C495.41,656 496.1,667.75 496.4,672C496.7,676.25 497.85,690.5 498.2,694.5C498.55,698.5 499.46,708.67 499.9,712C500.34,715.33 501.98,725.34 502.6,727.8C503.22,730.26 505.4,735.28 506.1,736.6C506.8,737.92 508.98,740.42 509.6,741C510.22,741.58 511.78,742.34 512.3,742.4C512.82,742.46 514.28,742.24 514.8,741.6C515.32,740.96 516.97,737.2 517.5,736C518.03,734.8 519.63,731.6 520.1,729.6C520.57,727.6 521.85,718.63 522.2,716C522.55,713.37 523.29,706.09 523.6,703.3C523.91,700.51 524.87,691.9 525.3,688.1C525.73,684.3 527.3,668.98 527.9,665.3C528.5,661.62 530.51,653.93 531.3,651.3C532.09,648.67 534.82,641.1 535.8,639C536.78,636.9 539.87,631.61 541.1,630.3C542.33,628.99 546.35,626.48 548.1,625.9C549.85,625.32 556.41,624.7 558.6,624.5C560.79,624.3 567.78,623.99 570,623.9C572.22,623.81 579.72,623.63 580.8,623.6" fill="none" stroke="#F6B62E" stroke-width="1.4" stroke-linejoin="round" stroke-linecap="round"/>
<path d="M485.3,625.3C486.1,625.28 492.4,624.43 493.3,625.1C494.2,625.77 494.11,629.31 494.3,632C494.49,634.69 494.99,648 495.2,652C495.41,656 496.1,667.75 496.4,672C496.7,676.25 497.85,690.5 498.2,694.5C498.55,698.5 499.46,708.67 499.9,712C500.34,715.33 501.98,725.34 502.6,727.8C503.22,730.26 505.4,735.28 506.1,736.6C506.8,737.92 508.98,740.42 509.6,741C510.22,741.58 511.84,742.45 512.3,742.4C512.76,742.35 513.8,741.24 514.2,740.5C514.6,739.76 515.89,736.27 516.3,735C516.71,733.73 517.83,730.97 518.3,727.8C518.77,724.63 520.65,708.08 521,703.3C521.35,698.52 521.65,684.13 521.8,680C521.95,675.87 522.32,665 522.5,662C522.68,659 523.25,651.9 523.6,650C523.95,648.1 525.48,644.1 526,643C526.52,641.9 527.99,639.92 528.8,639C529.61,638.08 532.87,634.76 534.1,633.8C535.33,632.84 539,630.1 541.1,629.4C543.2,628.7 552.21,627.18 555.1,626.8C557.99,626.42 567.43,625.76 570,625.6C572.57,625.44 579.72,625.24 580.8,625.2" fill="none" stroke="#3A55A8" stroke-width="1.4" stroke-linejoin="round" stroke-linecap="round"/>
<path d="M485.3,623.6C486.13,623.58 492.7,622.56 493.6,623.4C494.5,624.24 494.14,629.14 494.3,632C494.46,634.86 494.99,648 495.2,652C495.41,656 496.1,667.75 496.4,672C496.7,676.25 497.85,690.5 498.2,694.5C498.55,698.5 499.46,708.67 499.9,712C500.34,715.33 501.98,725.34 502.6,727.8C503.22,730.26 505.4,735.28 506.1,736.6C506.8,737.92 508.98,740.42 509.6,741C510.22,741.58 511.81,742.34 512.3,742.4C512.79,742.46 513.76,742.18 514.5,741.6C515.24,741.02 518.35,737.86 519.7,736.6C521.05,735.34 526.26,730.56 528,729C529.74,727.44 535.35,722.65 537.1,721C538.85,719.35 543.77,714.24 545.5,712.5C547.23,710.76 552.65,705.4 554.4,703.6C556.15,701.8 561.26,696.41 563,694.5C564.74,692.59 569.6,687 571.8,684.5C574,682 582.18,672.5 585,669.5C587.82,666.5 596.74,657.37 600,654.5C603.26,651.63 614.1,643.05 617.6,640.8C621.1,638.55 631.85,633.44 635,632C638.15,630.56 647,627.1 649.1,626.4C651.2,625.7 654.69,625.18 656,625C657.31,624.82 661.58,624.64 662.2,624.6" fill="none" stroke="#E8472D" stroke-width="1.4" stroke-linejoin="round" stroke-linecap="round"/>
<rect x="485" y="607.5" width="189.5" height="141" fill="none" stroke="#4a4a4a" stroke-width="1"/>
<line x1="482.2" y1="743.8" x2="485" y2="743.8" stroke="#4a4a4a" stroke-width="1"/>
<text x="481" y="747.1" font-size="9.4" text-anchor="end" font-weight="normal" fill="#1a1a1a" stroke="#1a1a1a" stroke-width="0.22">0</text>
<line x1="482.2" y1="715.2" x2="485" y2="715.2" stroke="#4a4a4a" stroke-width="1"/>
<text x="481" y="718.5" font-size="9.4" text-anchor="end" font-weight="normal" fill="#1a1a1a" stroke="#1a1a1a" stroke-width="0.22">20</text>
<line x1="482.2" y1="686.6" x2="485" y2="686.6" stroke="#4a4a4a" stroke-width="1"/>
<text x="481" y="689.9" font-size="9.4" text-anchor="end" font-weight="normal" fill="#1a1a1a" stroke="#1a1a1a" stroke-width="0.22">40</text>
<line x1="482.2" y1="658" x2="485" y2="658" stroke="#4a4a4a" stroke-width="1"/>
<text x="481" y="661.3" font-size="9.4" text-anchor="end" font-weight="normal" fill="#1a1a1a" stroke="#1a1a1a" stroke-width="0.22">60</text>
<line x1="482.2" y1="629.4" x2="485" y2="629.4" stroke="#4a4a4a" stroke-width="1"/>
<text x="481" y="632.7" font-size="9.4" text-anchor="end" font-weight="normal" fill="#1a1a1a" stroke="#1a1a1a" stroke-width="0.22">80</text>
<line x1="485.3" y1="748.5" x2="485.3" y2="751.3" stroke="#4a4a4a" stroke-width="1"/>
<text x="485.3" y="760.3" font-size="9.4" text-anchor="middle" font-weight="normal" fill="#1a1a1a" stroke="#1a1a1a" stroke-width="0.22">0</text>
<line x1="528.65" y1="748.5" x2="528.65" y2="751.3" stroke="#4a4a4a" stroke-width="1"/>
<text x="528.65" y="760.3" font-size="9.4" text-anchor="middle" font-weight="normal" fill="#1a1a1a" stroke="#1a1a1a" stroke-width="0.22">300</text>
<line x1="572" y1="748.5" x2="572" y2="751.3" stroke="#4a4a4a" stroke-width="1"/>
<text x="572" y="760.3" font-size="9.4" text-anchor="middle" font-weight="normal" fill="#1a1a1a" stroke="#1a1a1a" stroke-width="0.22">600</text>
<line x1="615.35" y1="748.5" x2="615.35" y2="751.3" stroke="#4a4a4a" stroke-width="1"/>
<text x="615.35" y="760.3" font-size="9.4" text-anchor="middle" font-weight="normal" fill="#1a1a1a" stroke="#1a1a1a" stroke-width="0.22">900</text>
<line x1="658.7" y1="748.5" x2="658.7" y2="751.3" stroke="#4a4a4a" stroke-width="1"/>
<text x="658.7" y="760.3" font-size="9.4" text-anchor="middle" font-weight="normal" fill="#1a1a1a" stroke="#1a1a1a" stroke-width="0.22">1200</text>
<text x="579.8" y="772.3" font-size="9.4" text-anchor="middle" font-weight="normal" fill="#1a1a1a" stroke="#1a1a1a" stroke-width="0.22">Time (s)</text>
<text x="464.4" y="678.3" font-size="9.4" text-anchor="middle" font-weight="normal" fill="#1a1a1a" stroke="#1a1a1a" stroke-width="0.22" transform="rotate(-90 464.4 678.3)">Transmittance (%)</text>
<line x1="619.7" y1="708" x2="631.9" y2="708" stroke="#F6B62E" stroke-width="1.4"/>
<text x="638.2" y="711.4" font-size="9.4" text-anchor="start" font-weight="normal" fill="#1a1a1a" stroke="#1a1a1a" stroke-width="0.22">25°C</text>
<line x1="619.7" y1="719.9" x2="631.9" y2="719.9" stroke="#3A55A8" stroke-width="1.4"/>
<text x="638.2" y="723.3" font-size="9.4" text-anchor="start" font-weight="normal" fill="#1a1a1a" stroke="#1a1a1a" stroke-width="0.22">50°C</text>
<line x1="619.7" y1="732.7" x2="631.9" y2="732.7" stroke="#E8472D" stroke-width="1.4"/>
<text x="638.2" y="736.1" font-size="9.4" text-anchor="start" font-weight="normal" fill="#1a1a1a" stroke="#1a1a1a" stroke-width="0.22">0°C</text>
</svg>
</body></html>
